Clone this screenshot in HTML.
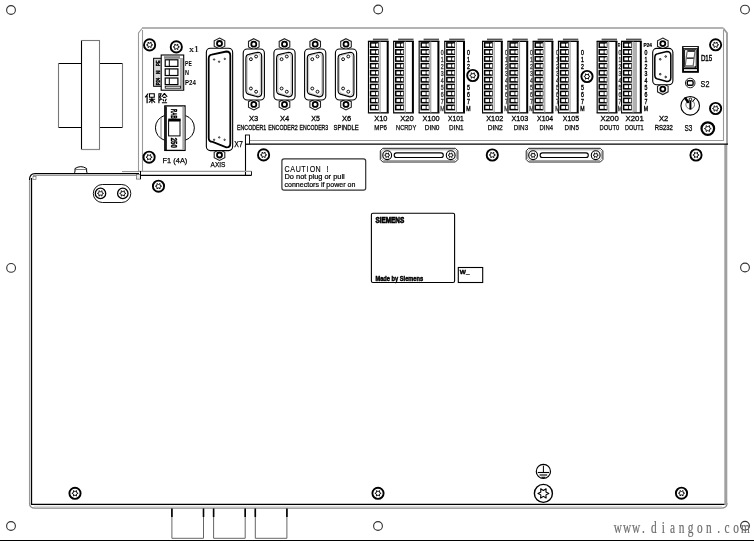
<!DOCTYPE html>
<html><head><meta charset="utf-8"><style>
html,body{margin:0;padding:0;background:#fff;overflow:hidden;}
svg{display:block;will-change:transform;}
</style></head><body>
<svg width="754" height="542" viewBox="0 0 754 542">
<rect width="754" height="542" fill="#fff"/>
<circle cx="11" cy="10" r="4.4" fill="none" stroke="#333" stroke-width="1.1"/>
<circle cx="378.2" cy="9.5" r="4.4" fill="none" stroke="#333" stroke-width="1.1"/>
<circle cx="745" cy="9.6" r="4.4" fill="none" stroke="#333" stroke-width="1.1"/>
<circle cx="11.1" cy="267.9" r="4.4" fill="none" stroke="#333" stroke-width="1.1"/>
<circle cx="745" cy="267.5" r="4.4" fill="none" stroke="#333" stroke-width="1.1"/>
<circle cx="11" cy="526" r="4.4" fill="none" stroke="#333" stroke-width="1.1"/>
<circle cx="378" cy="526" r="4.4" fill="none" stroke="#333" stroke-width="1.1"/>
<circle cx="745" cy="525.8" r="4.4" fill="none" stroke="#333" stroke-width="1.1"/>
<line x1="58" y1="63.5" x2="123" y2="63.5" stroke="#000" stroke-width="1.1"/>
<line x1="58" y1="127.5" x2="123" y2="127.5" stroke="#000" stroke-width="1.1"/>
<line x1="58.5" y1="63" x2="58.5" y2="128" stroke="#777" stroke-width="1.1"/>
<line x1="122.5" y1="63" x2="122.5" y2="128" stroke="#777" stroke-width="1.1"/>
<rect x="81.5" y="40.5" width="18" height="109" rx="0" fill="#fff" stroke="none" stroke-width="1"/>
<line x1="81.5" y1="40" x2="81.5" y2="150" stroke="#000" stroke-width="1.1"/>
<line x1="81" y1="40.5" x2="100" y2="40.5" stroke="#777" stroke-width="1.1"/>
<line x1="99.5" y1="40" x2="99.5" y2="150" stroke="#777" stroke-width="1.1"/>
<line x1="81" y1="149.5" x2="100" y2="149.5" stroke="#888" stroke-width="1.2"/>
<line x1="29.5" y1="180" x2="29.5" y2="503" stroke="#999" stroke-width="1.1"/>
<line x1="31.5" y1="178" x2="31.5" y2="504.5" stroke="#000" stroke-width="1.3"/>
<path d="M29.5,180 Q29.5,173.6 35,173.6 L139,173.6" fill="none" stroke="#000" stroke-width="1.1" />
<line x1="33" y1="175.5" x2="139" y2="175.5" stroke="#999" stroke-width="1"/>
<line x1="31" y1="504.4" x2="725" y2="504.4" stroke="#000" stroke-width="1.4"/>
<path d="M29.5,503 Q29.5,508.2 35,508.2 L721,508.2 Q727,508.2 727,503" fill="none" stroke="#888" stroke-width="1.2" />
<line x1="34" y1="506.3" x2="722" y2="506.3" stroke="#d0d0d0" stroke-width="0.9"/>
<rect x="724.3" y="144" width="3" height="361" rx="0" fill="#a0a0a0" stroke="none" stroke-width="1"/>
<rect x="33" y="176.5" width="3" height="3" rx="0" fill="none" stroke="#555" stroke-width="0.6"/>
<line x1="142" y1="28" x2="723.5" y2="28" stroke="#9a9a9a" stroke-width="1.5"/>
<path d="M138.5,172 L138.5,33 L142,28.5" fill="none" stroke="#999" stroke-width="1.1" />
<line x1="142.5" y1="30" x2="142.5" y2="171" stroke="#999" stroke-width="1.1"/>
<path d="M727,144 L727,33 L723.5,28.5" fill="none" stroke="#999" stroke-width="1.8" />
<line x1="723.5" y1="30" x2="723.5" y2="141" stroke="#999" stroke-width="1.1"/>
<line x1="249.5" y1="140.5" x2="724" y2="140.5" stroke="#999" stroke-width="1.1"/>
<line x1="245.5" y1="144.2" x2="728" y2="144.2" stroke="#000" stroke-width="1.3"/>
<line x1="245.5" y1="135" x2="245.5" y2="175.5" stroke="#000" stroke-width="1.1"/>
<rect x="245.5" y="135" width="4" height="9" rx="0" fill="#fff" stroke="#000" stroke-width="0.9"/>
<line x1="138" y1="171.4" x2="251.5" y2="171.4" stroke="#999" stroke-width="1.1"/>
<line x1="138" y1="175.4" x2="251.5" y2="175.4" stroke="#000" stroke-width="1.2"/>
<line x1="251.5" y1="171.4" x2="251.5" y2="175.4" stroke="#000" stroke-width="0.9"/>
<rect x="136.4" y="174.5" width="4" height="4.6" rx="0" fill="#e8e8e8" stroke="#666" stroke-width="0.7"/>
<line x1="140.5" y1="171" x2="140.5" y2="179.2" stroke="#000" stroke-width="1"/>
<path d="M73.9,173.5 Q75,172.5 75,171 L75,168.5 Q80.8,164.8 86.6,168.5 L86.6,171 Q86.6,172.5 87.8,173.5 Z" fill="#fff" stroke="#000" stroke-width="1" />
<line x1="75" y1="169.5" x2="86.6" y2="169.5" stroke="#555" stroke-width="0.8"/>
<line x1="122" y1="171.6" x2="139" y2="171.6" stroke="#888" stroke-width="1"/>
<rect x="93.3" y="184.5" width="37.5" height="18" rx="9" fill="#fff" stroke="#111" stroke-width="1"/>
<circle cx="100.5" cy="193.4" r="5.2" fill="#fff" stroke="#000" stroke-width="1.3"/>
<polygon points="103.60,193.40 101.98,192.55 102.05,190.72 100.50,191.69 98.95,190.72 99.02,192.55 97.40,193.40 99.02,194.25 98.95,196.08 100.50,195.11 102.05,196.08 101.98,194.25" fill="none" stroke="#000" stroke-width="0.9" stroke-linejoin="round"/>
<circle cx="122.8" cy="193.4" r="5.2" fill="#fff" stroke="#000" stroke-width="1.3"/>
<polygon points="125.90,193.40 124.28,192.55 124.35,190.72 122.80,191.69 121.25,190.72 121.32,192.55 119.70,193.40 121.32,194.25 121.25,196.08 122.80,195.11 124.35,196.08 124.28,194.25" fill="none" stroke="#000" stroke-width="0.9" stroke-linejoin="round"/>
<circle cx="263.6" cy="154.9" r="5.6" fill="#fff" stroke="#000" stroke-width="1.9"/>
<polygon points="266.70,154.90 265.08,154.05 265.15,152.22 263.60,153.19 262.05,152.22 262.12,154.05 260.50,154.90 262.12,155.75 262.05,157.58 263.60,156.61 265.15,157.58 265.08,155.75" fill="none" stroke="#000" stroke-width="0.9" stroke-linejoin="round"/>
<circle cx="492.3" cy="155" r="5.6" fill="#fff" stroke="#000" stroke-width="1.9"/>
<polygon points="495.40,155.00 493.78,154.15 493.85,152.32 492.30,153.29 490.75,152.32 490.82,154.15 489.20,155.00 490.82,155.85 490.75,157.68 492.30,156.71 493.85,157.68 493.78,155.85" fill="none" stroke="#000" stroke-width="0.9" stroke-linejoin="round"/>
<circle cx="696" cy="155" r="5.6" fill="#fff" stroke="#000" stroke-width="1.9"/>
<polygon points="699.10,155.00 697.48,154.15 697.55,152.32 696.00,153.29 694.45,152.32 694.52,154.15 692.90,155.00 694.52,155.85 694.45,157.68 696.00,156.71 697.55,157.68 697.48,155.85" fill="none" stroke="#000" stroke-width="0.9" stroke-linejoin="round"/>
<circle cx="75" cy="493.3" r="5.6" fill="#fff" stroke="#000" stroke-width="1.9"/>
<polygon points="78.10,493.30 76.48,492.45 76.55,490.62 75.00,491.60 73.45,490.62 73.52,492.45 71.90,493.30 73.52,494.15 73.45,495.98 75.00,495.00 76.55,495.98 76.48,494.15" fill="none" stroke="#000" stroke-width="0.9" stroke-linejoin="round"/>
<circle cx="378" cy="493.3" r="5.6" fill="#fff" stroke="#000" stroke-width="1.9"/>
<polygon points="381.10,493.30 379.48,492.45 379.55,490.62 378.00,491.60 376.45,490.62 376.52,492.45 374.90,493.30 376.52,494.15 376.45,495.98 378.00,495.00 379.55,495.98 379.48,494.15" fill="none" stroke="#000" stroke-width="0.9" stroke-linejoin="round"/>
<circle cx="681.5" cy="493.2" r="5.6" fill="#fff" stroke="#000" stroke-width="1.9"/>
<polygon points="684.60,493.20 682.98,492.35 683.05,490.52 681.50,491.50 679.95,490.52 680.02,492.35 678.40,493.20 680.02,494.05 679.95,495.88 681.50,494.90 683.05,495.88 682.98,494.05" fill="none" stroke="#000" stroke-width="0.9" stroke-linejoin="round"/>
<circle cx="158.5" cy="186.2" r="5.6" fill="#fff" stroke="#000" stroke-width="1.9"/>
<polygon points="161.60,186.20 159.98,185.35 160.05,183.52 158.50,184.49 156.95,183.52 157.02,185.35 155.40,186.20 157.02,187.05 156.95,188.88 158.50,187.91 160.05,188.88 159.98,187.05" fill="none" stroke="#000" stroke-width="0.9" stroke-linejoin="round"/>
<path d="M382.8,148.3 L455.4,148.3 L457.9,150.8 L457.9,159.5 L455.4,162 L382.8,162 L380.3,159.5 L380.3,150.8 Z" fill="#fff" stroke="#222" stroke-width="1" />
<path d="M383.6,149.8 L454.59999999999997,149.8 L456.4,151.60000000000002 L456.4,158.7 L454.59999999999997,160.5 L383.6,160.5 L381.8,158.7 L381.8,151.60000000000002 Z" fill="none" stroke="#666" stroke-width="0.6" />
<circle cx="387.2" cy="155.2" r="4.4" fill="#fff" stroke="#000" stroke-width="1.1"/>
<polygon points="389.80,155.20 388.44,154.48 388.50,152.95 387.20,153.77 385.90,152.95 385.96,154.48 384.60,155.20 385.96,155.91 385.90,157.45 387.20,156.63 388.50,157.45 388.44,155.91" fill="none" stroke="#000" stroke-width="0.9" stroke-linejoin="round"/>
<circle cx="450.7" cy="155.2" r="4.4" fill="#fff" stroke="#000" stroke-width="1.1"/>
<polygon points="453.30,155.20 451.94,154.48 452.00,152.95 450.70,153.77 449.40,152.95 449.46,154.48 448.10,155.20 449.46,155.91 449.40,157.45 450.70,156.63 452.00,157.45 451.94,155.91" fill="none" stroke="#000" stroke-width="0.9" stroke-linejoin="round"/>
<rect x="394.2" y="152.9" width="49.099999999999966" height="4.6" rx="2.3" fill="none" stroke="#000" stroke-width="1.1"/>
<path d="M528.7,148.3 L600.4,148.3 L602.9,150.8 L602.9,159.5 L600.4,162 L528.7,162 L526.2,159.5 L526.2,150.8 Z" fill="#fff" stroke="#222" stroke-width="1" />
<path d="M529.5,149.8 L599.6,149.8 L601.4,151.60000000000002 L601.4,158.7 L599.6,160.5 L529.5,160.5 L527.7,158.7 L527.7,151.60000000000002 Z" fill="none" stroke="#666" stroke-width="0.6" />
<circle cx="533.1" cy="155.2" r="4.4" fill="#fff" stroke="#000" stroke-width="1.1"/>
<polygon points="535.70,155.20 534.34,154.48 534.40,152.95 533.10,153.77 531.80,152.95 531.86,154.48 530.50,155.20 531.86,155.91 531.80,157.45 533.10,156.63 534.40,157.45 534.34,155.91" fill="none" stroke="#000" stroke-width="0.9" stroke-linejoin="round"/>
<circle cx="595.6999999999999" cy="155.2" r="4.4" fill="#fff" stroke="#000" stroke-width="1.1"/>
<polygon points="598.30,155.20 596.94,154.48 597.00,152.95 595.70,153.77 594.40,152.95 594.46,154.48 593.10,155.20 594.46,155.91 594.40,157.45 595.70,156.63 597.00,157.45 596.94,155.91" fill="none" stroke="#000" stroke-width="0.9" stroke-linejoin="round"/>
<rect x="540.1" y="152.9" width="48.19999999999993" height="4.6" rx="2.3" fill="none" stroke="#000" stroke-width="1.1"/>
<rect x="281.9" y="158.9" width="83.8" height="31.3" rx="2.2" fill="#fff" stroke="#333" stroke-width="1.2"/>
<text transform="translate(287.1,172.1) scale(0.72,1)" font-family="Liberation Sans" font-size="9.9" fill="#000" stroke="#000" stroke-width="0.15" text-anchor="middle">C</text>
<text transform="translate(292.6,172.1) scale(0.72,1)" font-family="Liberation Sans" font-size="9.9" fill="#000" stroke="#000" stroke-width="0.15" text-anchor="middle">A</text>
<text transform="translate(298.4,172.1) scale(0.72,1)" font-family="Liberation Sans" font-size="9.9" fill="#000" stroke="#000" stroke-width="0.15" text-anchor="middle">U</text>
<text transform="translate(303.3,172.1) scale(0.72,1)" font-family="Liberation Sans" font-size="9.9" fill="#000" stroke="#000" stroke-width="0.15" text-anchor="middle">T</text>
<text transform="translate(307.6,172.1) scale(0.72,1)" font-family="Liberation Sans" font-size="9.9" fill="#000" stroke="#000" stroke-width="0.15" text-anchor="middle">I</text>
<text transform="translate(312.4,172.1) scale(0.72,1)" font-family="Liberation Sans" font-size="9.9" fill="#000" stroke="#000" stroke-width="0.15" text-anchor="middle">O</text>
<text transform="translate(318,172.1) scale(0.72,1)" font-family="Liberation Sans" font-size="9.9" fill="#000" stroke="#000" stroke-width="0.15" text-anchor="middle">N</text>
<text transform="translate(327.4,172.1) scale(0.72,1)" font-family="Liberation Sans" font-size="9.9" fill="#000" stroke="#000" stroke-width="0.15" text-anchor="middle">!</text>
<text x="284.5" y="179.3" font-family="Liberation Sans" font-size="7.6" font-weight="normal" fill="#000" textLength="60.20" lengthAdjust="spacingAndGlyphs" stroke="#000" stroke-width="0.22">Do not plug or pull</text>
<text x="284.5" y="186.6" font-family="Liberation Sans" font-size="7.6" font-weight="normal" fill="#000" textLength="70.80" lengthAdjust="spacingAndGlyphs" stroke="#000" stroke-width="0.22">connectors if power on</text>
<rect x="371.4" y="213.3" width="83.2" height="69.2" rx="1.5" fill="#fff" stroke="#000" stroke-width="1.1"/>
<text x="375.4" y="222.6" font-family="Liberation Sans" font-size="8.8" font-weight="bold" fill="#000" textLength="28.80" lengthAdjust="spacingAndGlyphs" stroke="#000" stroke-width="0.7">SIEMENS</text>
<text x="375.4" y="280.8" font-family="Liberation Sans" font-size="6.4" font-weight="bold" fill="#000" textLength="47.80" lengthAdjust="spacingAndGlyphs" stroke="#000" stroke-width="0.45">Made by Siemens</text>
<rect x="458.3" y="267.5" width="24.4" height="15" rx="0" fill="#fff" stroke="#000" stroke-width="1.1"/>
<text x="459.8" y="273.9" font-family="Liberation Sans" font-size="6" font-weight="bold" fill="#000" textLength="9.70" lengthAdjust="spacingAndGlyphs" stroke="#000" stroke-width="0.4">W_</text>
<circle cx="543.4" cy="471.4" r="7.1" fill="#fff" stroke="#000" stroke-width="1.2"/>
<line x1="543.4" y1="465.6" x2="543.4" y2="472.5" stroke="#000" stroke-width="1"/>
<line x1="537.8" y1="472.5" x2="549" y2="472.5" stroke="#000" stroke-width="1.1"/>
<line x1="539.6" y1="475" x2="547.2" y2="475" stroke="#000" stroke-width="1.1"/>
<line x1="541.4" y1="477.3" x2="545.4" y2="477.3" stroke="#000" stroke-width="1.1"/>
<circle cx="543.4" cy="493.4" r="9" fill="#fff" stroke="#000" stroke-width="1.4"/>
<polygon points="548.80,493.40 545.97,491.91 546.10,488.72 543.40,490.43 540.70,488.72 540.83,491.91 538.00,493.40 540.83,494.88 540.70,498.08 543.40,496.37 546.10,498.08 545.97,494.88" fill="none" stroke="#000" stroke-width="1.1" stroke-linejoin="round"/>
<line x1="0" y1="540.5" x2="754" y2="540.5" stroke="#000" stroke-width="1.2"/>
<path d="M171.9,508.5 L171.9,538.3 L203.5,538.3 L203.5,508.5" fill="none" stroke="#666" stroke-width="1" />
<line x1="171.9" y1="508.5" x2="171.9" y2="517" stroke="#000" stroke-width="1.6"/>
<line x1="203.5" y1="508.5" x2="203.5" y2="517" stroke="#000" stroke-width="1.6"/>
<path d="M213.6,508.5 L213.6,538.3 L245.2,538.3 L245.2,508.5" fill="none" stroke="#666" stroke-width="1" />
<line x1="213.6" y1="508.5" x2="213.6" y2="517" stroke="#000" stroke-width="1.6"/>
<line x1="245.2" y1="508.5" x2="245.2" y2="517" stroke="#000" stroke-width="1.6"/>
<path d="M255.3,508.5 L255.3,538.3 L286.90000000000003,538.3 L286.90000000000003,508.5" fill="none" stroke="#666" stroke-width="1" />
<line x1="255.3" y1="508.5" x2="255.3" y2="517" stroke="#000" stroke-width="1.6"/>
<line x1="286.90000000000003" y1="508.5" x2="286.90000000000003" y2="517" stroke="#000" stroke-width="1.6"/>
<text transform="translate(617.9,533.2) scale(0.7,1)" font-family="Liberation Serif" font-size="16.2" fill="#666" stroke="#888" stroke-width="0.25" text-anchor="middle">w</text>
<text transform="translate(627,533.2) scale(0.7,1)" font-family="Liberation Serif" font-size="16.2" fill="#666" stroke="#888" stroke-width="0.25" text-anchor="middle">w</text>
<text transform="translate(636,533.2) scale(0.7,1)" font-family="Liberation Serif" font-size="16.2" fill="#666" stroke="#888" stroke-width="0.25" text-anchor="middle">w</text>
<text transform="translate(643.5,533.2) scale(0.7,1)" font-family="Liberation Serif" font-size="16.2" fill="#666" stroke="#888" stroke-width="0.25" text-anchor="middle">.</text>
<text transform="translate(653.9,533.2) scale(0.7,1)" font-family="Liberation Serif" font-size="16.2" fill="#666" stroke="#888" stroke-width="0.25" text-anchor="middle">d</text>
<text transform="translate(663.4,533.2) scale(0.7,1)" font-family="Liberation Serif" font-size="16.2" fill="#666" stroke="#888" stroke-width="0.25" text-anchor="middle">i</text>
<text transform="translate(672.5,533.2) scale(0.7,1)" font-family="Liberation Serif" font-size="16.2" fill="#666" stroke="#888" stroke-width="0.25" text-anchor="middle">a</text>
<text transform="translate(681.6,533.2) scale(0.7,1)" font-family="Liberation Serif" font-size="16.2" fill="#666" stroke="#888" stroke-width="0.25" text-anchor="middle">n</text>
<text transform="translate(690.7,533.2) scale(0.7,1)" font-family="Liberation Serif" font-size="16.2" fill="#666" stroke="#888" stroke-width="0.25" text-anchor="middle">g</text>
<text transform="translate(699.8,533.2) scale(0.7,1)" font-family="Liberation Serif" font-size="16.2" fill="#666" stroke="#888" stroke-width="0.25" text-anchor="middle">o</text>
<text transform="translate(708.9,533.2) scale(0.7,1)" font-family="Liberation Serif" font-size="16.2" fill="#666" stroke="#888" stroke-width="0.25" text-anchor="middle">n</text>
<text transform="translate(718.7,533.2) scale(0.7,1)" font-family="Liberation Serif" font-size="16.2" fill="#666" stroke="#888" stroke-width="0.25" text-anchor="middle">.</text>
<text transform="translate(727.1,533.2) scale(0.7,1)" font-family="Liberation Serif" font-size="16.2" fill="#666" stroke="#888" stroke-width="0.25" text-anchor="middle">c</text>
<text transform="translate(736.2,533.2) scale(0.7,1)" font-family="Liberation Serif" font-size="16.2" fill="#666" stroke="#888" stroke-width="0.25" text-anchor="middle">o</text>
<text transform="translate(745.3,533.2) scale(0.7,1)" font-family="Liberation Serif" font-size="16.2" fill="#666" stroke="#888" stroke-width="0.25" text-anchor="middle">m</text>
<circle cx="149.6" cy="44.9" r="5.6" fill="#fff" stroke="#000" stroke-width="1.9"/>
<polygon points="152.70,44.90 151.08,44.05 151.15,42.22 149.60,43.20 148.05,42.22 148.12,44.05 146.50,44.90 148.12,45.75 148.05,47.58 149.60,46.60 151.15,47.58 151.08,45.75" fill="none" stroke="#000" stroke-width="0.9" stroke-linejoin="round"/>
<circle cx="176.3" cy="46.9" r="5.6" fill="#fff" stroke="#000" stroke-width="1.9"/>
<polygon points="179.40,46.90 177.78,46.05 177.85,44.22 176.30,45.20 174.75,44.22 174.82,46.05 173.20,46.90 174.82,47.75 174.75,49.58 176.30,48.60 177.85,49.58 177.78,47.75" fill="none" stroke="#000" stroke-width="0.9" stroke-linejoin="round"/>
<circle cx="149.1" cy="157.2" r="5.6" fill="#fff" stroke="#000" stroke-width="1.9"/>
<polygon points="152.20,157.20 150.58,156.35 150.65,154.52 149.10,155.49 147.55,154.52 147.62,156.35 146.00,157.20 147.62,158.05 147.55,159.88 149.10,158.91 150.65,159.88 150.58,158.05" fill="none" stroke="#000" stroke-width="0.9" stroke-linejoin="round"/>
<circle cx="715.6" cy="44.8" r="5.6" fill="#fff" stroke="#000" stroke-width="1.9"/>
<polygon points="718.70,44.80 717.08,43.95 717.15,42.12 715.60,43.09 714.05,42.12 714.12,43.95 712.50,44.80 714.12,45.65 714.05,47.48 715.60,46.50 717.15,47.48 717.08,45.65" fill="none" stroke="#000" stroke-width="0.9" stroke-linejoin="round"/>
<circle cx="715.6" cy="108.5" r="5.6" fill="#fff" stroke="#000" stroke-width="1.9"/>
<polygon points="718.70,108.50 717.08,107.65 717.15,105.82 715.60,106.80 714.05,105.82 714.12,107.65 712.50,108.50 714.12,109.35 714.05,111.18 715.60,110.20 717.15,111.18 717.08,109.35" fill="none" stroke="#000" stroke-width="0.9" stroke-linejoin="round"/>
<circle cx="472.8" cy="75.5" r="5.6" fill="#fff" stroke="#000" stroke-width="1.9"/>
<polygon points="475.90,75.50 474.28,74.65 474.35,72.82 472.80,73.80 471.25,72.82 471.32,74.65 469.70,75.50 471.32,76.35 471.25,78.18 472.80,77.20 474.35,78.18 474.28,76.35" fill="none" stroke="#000" stroke-width="0.9" stroke-linejoin="round"/>
<circle cx="587" cy="76.5" r="5.6" fill="#fff" stroke="#000" stroke-width="1.9"/>
<polygon points="590.10,76.50 588.48,75.65 588.55,73.82 587.00,74.80 585.45,73.82 585.52,75.65 583.90,76.50 585.52,77.35 585.45,79.18 587.00,78.20 588.55,79.18 588.48,77.35" fill="none" stroke="#000" stroke-width="0.9" stroke-linejoin="round"/>
<circle cx="707.8" cy="128.6" r="6.3" fill="#fff" stroke="#000" stroke-width="2.2"/>
<polygon points="711.20,128.60 709.42,127.66 709.50,125.66 707.80,126.73 706.10,125.66 706.18,127.66 704.40,128.60 706.18,129.53 706.10,131.54 707.80,130.47 709.50,131.54 709.42,129.53" fill="none" stroke="#000" stroke-width="0.9" stroke-linejoin="round"/>
<text x="189.1" y="51.7" font-family="Liberation Serif" font-size="9" font-weight="normal" fill="#000" textLength="9.90" lengthAdjust="spacingAndGlyphs" stroke="#000" stroke-width="0.2">x1</text>
<rect x="153.6" y="58.3" width="9.8" height="28" rx="0" fill="#d8d8d8" stroke="#000" stroke-width="1"/>
<text x="0" y="0" font-family="Liberation Sans" font-weight="bold" font-size="5.2" fill="#000" stroke="#000" stroke-width="0.4" text-anchor="middle" textLength="5.5" lengthAdjust="spacingAndGlyphs" transform="translate(160.2,63.2) rotate(-90)">PE</text>
<text x="0" y="0" font-family="Liberation Sans" font-weight="bold" font-size="5.2" fill="#000" stroke="#000" stroke-width="0.4" text-anchor="middle" textLength="3.5" lengthAdjust="spacingAndGlyphs" transform="translate(160.2,72.3) rotate(-90)">N</text>
<text x="0" y="0" font-family="Liberation Sans" font-weight="bold" font-size="5.2" fill="#000" stroke="#000" stroke-width="0.4" text-anchor="middle" textLength="7.5" lengthAdjust="spacingAndGlyphs" transform="translate(160.2,81.6) rotate(-90)">P24</text>
<rect x="161.2" y="55" width="22.5" height="35.2" rx="0" fill="#fff" stroke="#000" stroke-width="1.1"/>
<rect x="164" y="56.2" width="16" height="2.6" rx="0" fill="#888" stroke="none" stroke-width="1"/>
<rect x="179.9" y="58" width="3.1" height="31" rx="0" fill="#aaa" stroke="none" stroke-width="1"/>
<rect x="165.2" y="59.8" width="12.7" height="6.6000000000000085" rx="0" fill="#fff" stroke="#000" stroke-width="1.2"/>
<line x1="169.3" y1="59.8" x2="169.3" y2="66.4" stroke="#000" stroke-width="1"/>
<rect x="165.2" y="68.9" width="12.7" height="6.599999999999994" rx="0" fill="#fff" stroke="#000" stroke-width="1.2"/>
<line x1="169.3" y1="68.9" x2="169.3" y2="75.5" stroke="#000" stroke-width="1"/>
<rect x="165.2" y="78" width="12.7" height="6.599999999999994" rx="0" fill="#fff" stroke="#000" stroke-width="1.2"/>
<line x1="169.3" y1="78" x2="169.3" y2="84.6" stroke="#000" stroke-width="1"/>
<rect x="165.2" y="86.2" width="15.2" height="2" rx="0" fill="#fff" stroke="#000" stroke-width="0.8"/>
<text x="185" y="65.9" font-family="Liberation Sans" font-size="6.8" font-weight="bold" fill="#000" textLength="6.80" lengthAdjust="spacingAndGlyphs" >PE</text>
<text x="185" y="75" font-family="Liberation Sans" font-size="6.8" font-weight="bold" fill="#000" textLength="4.00" lengthAdjust="spacingAndGlyphs" >N</text>
<text x="185" y="84.6" font-family="Liberation Sans" font-size="6.8" font-weight="bold" fill="#000" textLength="10.90" lengthAdjust="spacingAndGlyphs" >P24</text>
<path d="M148.1,93.5 L145.20000000000002,97.4 M147.1,95.4 L147.1,103.2" fill="none" stroke="#000" stroke-width="1.2" />
<path d="M149.5,93.8 L154.3,93.8 L154.3,97.2 L149.5,97.2 Z M148.9,99.2 L155.1,99.2 M151.9,97.2 L151.9,103.2 M151.70000000000002,99.60000000000001 L148.9,102.60000000000001 M152.1,99.60000000000001 L155.1,102.60000000000001" fill="none" stroke="#000" stroke-width="1.1" />
<path d="M158.9,103.2 L158.9,93.7 L161.1,93.7 L159.9,97.0 L161.3,99.2 L159.3,100.2" fill="none" stroke="#000" stroke-width="1.1" />
<path d="M164.4,93.4 L161.70000000000002,96.8 M164.4,93.4 L167.20000000000002,96.8 M163.1,97.4 L165.8,97.4 M162.9,99.0 L163.70000000000002,101.2 M166.3,98.8 L165.1,101.4 M161.9,102.8 L167.1,102.8" fill="none" stroke="#000" stroke-width="1.1" />
<path d="M164.3,115.6 A12.9,12.9 0 0 0 164.3,140.1" fill="none" stroke="#000" stroke-width="1" />
<path d="M185.5,115.6 A12.9,12.9 0 0 1 185.5,140.1" fill="none" stroke="#000" stroke-width="1" />
<line x1="161" y1="117.5" x2="161" y2="138.5" stroke="#555" stroke-width="0.8"/>
<rect x="164.8" y="105.9" width="20.2" height="44.5" rx="0" fill="#fff" stroke="#000" stroke-width="1.3"/>
<rect x="165.2" y="106.5" width="1.6" height="43.5" rx="0" fill="#000" stroke="none" stroke-width="1"/>
<rect x="182.3" y="106.8" width="2.4" height="43" rx="0" fill="#a8a8a8" stroke="none" stroke-width="1"/>
<text x="0" y="0" font-family="Liberation Sans" font-weight="bold" font-size="9" fill="#000" stroke="#000" stroke-width="0.4" text-anchor="middle" textLength="9.6" lengthAdjust="spacingAndGlyphs" transform="translate(171.4,113.8) rotate(90)">RAB</text>
<text x="0" y="0" font-family="Liberation Sans" font-weight="bold" font-size="9" fill="#000" stroke="#000" stroke-width="0.4" text-anchor="middle" textLength="10.2" lengthAdjust="spacingAndGlyphs" transform="translate(171.4,142.8) rotate(90)">250</text>
<rect x="168.2" y="118.6" width="12.5" height="2.4" rx="0" fill="#000" stroke="none" stroke-width="1"/>
<rect x="168.6" y="121" width="11.4" height="14.9" rx="0" fill="#fff" stroke="#000" stroke-width="1"/>
<text x="162.6" y="162.9" font-family="Liberation Sans" font-size="7.6" font-weight="normal" fill="#000" textLength="24.70" lengthAdjust="spacingAndGlyphs" stroke="#000" stroke-width="0.25">F1 (4A)</text>
<polygon points="219.5,38.0 224.8,40.75 224.8,46.25 219.5,49.0 214.2,46.25 214.2,40.75" fill="#fff" stroke="#222" stroke-width="1.1"/>
<circle cx="219.5" cy="43.5" r="2.5" fill="#fff" stroke="#000" stroke-width="1.8"/>
<polygon points="219.5,149.5 224.8,152.25 224.8,157.75 219.5,160.5 214.2,157.75 214.2,152.25" fill="#fff" stroke="#222" stroke-width="1.1"/>
<circle cx="219.5" cy="155.0" r="2.5" fill="#fff" stroke="#000" stroke-width="1.8"/>
<rect x="206.35" y="48.3" width="26.3" height="102.3" rx="4" fill="#fff" stroke="#000" stroke-width="1.1"/>
<path d="M208.7,58.7 Q208.7,55.0 211.7,54.7 L226.3,51.5 Q230.3,51.5 230.3,55.5 L230.3,143.4 Q230.3,147.4 226.3,147.4 L212.7,141.9 Q208.7,141.6 208.7,137.9 Z" fill="none" stroke="#000" stroke-width="1.8" />
<polygon points="253.8,38.7 259.1,41.45 259.1,46.95 253.8,49.7 248.5,46.95 248.5,41.45" fill="#fff" stroke="#222" stroke-width="1.1"/>
<circle cx="253.8" cy="44.2" r="2.5" fill="#fff" stroke="#000" stroke-width="1.8"/>
<polygon points="253.8,98.9 259.1,101.65 259.1,107.15 253.8,109.9 248.5,107.15 248.5,101.65" fill="#fff" stroke="#222" stroke-width="1.1"/>
<circle cx="253.8" cy="104.4" r="2.5" fill="#fff" stroke="#000" stroke-width="1.8"/>
<rect x="243.20000000000002" y="49" width="21.2" height="51" rx="4" fill="#fff" stroke="#000" stroke-width="1.1"/>
<path d="M245.9,58.400000000000006 Q245.9,54.7 248.9,54.400000000000006 L257.7,52.2 Q261.7,52.2 261.7,56.2 L261.7,92.8 Q261.7,96.8 257.7,96.8 L249.9,94.6 Q245.9,94.3 245.9,90.6 Z" fill="none" stroke="#000" stroke-width="1.15" />
<path d="M245.9,58.400000000000006 Q245.9,54.7 248.9,54.400000000000006 L257.7,52.2 Q261.7,52.2 261.7,56.2 L261.7,92.8 Q261.7,96.8 257.7,96.8 L249.9,94.6 Q245.9,94.3 245.9,90.6 Z" fill="none" stroke="#777" stroke-width="0.5" transform="translate(253.8,74.5) scale(0.835,0.951) translate(-253.8,-74.5)"/>
<polygon points="284.5,38.7 289.8,41.45 289.8,46.95 284.5,49.7 279.2,46.95 279.2,41.45" fill="#fff" stroke="#222" stroke-width="1.1"/>
<circle cx="284.5" cy="44.2" r="2.5" fill="#fff" stroke="#000" stroke-width="1.8"/>
<polygon points="284.5,98.9 289.8,101.65 289.8,107.15 284.5,109.9 279.2,107.15 279.2,101.65" fill="#fff" stroke="#222" stroke-width="1.1"/>
<circle cx="284.5" cy="104.4" r="2.5" fill="#fff" stroke="#000" stroke-width="1.8"/>
<rect x="273.9" y="49" width="21.2" height="51" rx="4" fill="#fff" stroke="#000" stroke-width="1.1"/>
<path d="M276.6,58.400000000000006 Q276.6,54.7 279.6,54.400000000000006 L288.4,52.2 Q292.4,52.2 292.4,56.2 L292.4,92.8 Q292.4,96.8 288.4,96.8 L280.6,94.6 Q276.6,94.3 276.6,90.6 Z" fill="none" stroke="#000" stroke-width="1.15" />
<path d="M276.6,58.400000000000006 Q276.6,54.7 279.6,54.400000000000006 L288.4,52.2 Q292.4,52.2 292.4,56.2 L292.4,92.8 Q292.4,96.8 288.4,96.8 L280.6,94.6 Q276.6,94.3 276.6,90.6 Z" fill="none" stroke="#777" stroke-width="0.5" transform="translate(284.5,74.5) scale(0.835,0.951) translate(-284.5,-74.5)"/>
<polygon points="315.2,38.7 320.5,41.45 320.5,46.95 315.2,49.7 309.9,46.95 309.9,41.45" fill="#fff" stroke="#222" stroke-width="1.1"/>
<circle cx="315.2" cy="44.2" r="2.5" fill="#fff" stroke="#000" stroke-width="1.8"/>
<polygon points="315.2,98.9 320.5,101.65 320.5,107.15 315.2,109.9 309.9,107.15 309.9,101.65" fill="#fff" stroke="#222" stroke-width="1.1"/>
<circle cx="315.2" cy="104.4" r="2.5" fill="#fff" stroke="#000" stroke-width="1.8"/>
<rect x="304.59999999999997" y="49" width="21.2" height="51" rx="4" fill="#fff" stroke="#000" stroke-width="1.1"/>
<path d="M307.3,58.400000000000006 Q307.3,54.7 310.3,54.400000000000006 L319.09999999999997,52.2 Q323.09999999999997,52.2 323.09999999999997,56.2 L323.09999999999997,92.8 Q323.09999999999997,96.8 319.09999999999997,96.8 L311.3,94.6 Q307.3,94.3 307.3,90.6 Z" fill="none" stroke="#000" stroke-width="1.15" />
<path d="M307.3,58.400000000000006 Q307.3,54.7 310.3,54.400000000000006 L319.09999999999997,52.2 Q323.09999999999997,52.2 323.09999999999997,56.2 L323.09999999999997,92.8 Q323.09999999999997,96.8 319.09999999999997,96.8 L311.3,94.6 Q307.3,94.3 307.3,90.6 Z" fill="none" stroke="#777" stroke-width="0.5" transform="translate(315.2,74.5) scale(0.835,0.951) translate(-315.2,-74.5)"/>
<polygon points="346,38.7 351.3,41.45 351.3,46.95 346,49.7 340.7,46.95 340.7,41.45" fill="#fff" stroke="#222" stroke-width="1.1"/>
<circle cx="346" cy="44.2" r="2.5" fill="#fff" stroke="#000" stroke-width="1.8"/>
<polygon points="346,98.9 351.3,101.65 351.3,107.15 346,109.9 340.7,107.15 340.7,101.65" fill="#fff" stroke="#222" stroke-width="1.1"/>
<circle cx="346" cy="104.4" r="2.5" fill="#fff" stroke="#000" stroke-width="1.8"/>
<rect x="335.4" y="49" width="21.2" height="51" rx="4" fill="#fff" stroke="#000" stroke-width="1.1"/>
<path d="M338.1,58.400000000000006 Q338.1,54.7 341.1,54.400000000000006 L349.9,52.2 Q353.9,52.2 353.9,56.2 L353.9,92.8 Q353.9,96.8 349.9,96.8 L342.1,94.6 Q338.1,94.3 338.1,90.6 Z" fill="none" stroke="#000" stroke-width="1.15" />
<path d="M338.1,58.400000000000006 Q338.1,54.7 341.1,54.400000000000006 L349.9,52.2 Q353.9,52.2 353.9,56.2 L353.9,92.8 Q353.9,96.8 349.9,96.8 L342.1,94.6 Q338.1,94.3 338.1,90.6 Z" fill="none" stroke="#777" stroke-width="0.5" transform="translate(346,74.5) scale(0.835,0.951) translate(-346,-74.5)"/>
<polygon points="662.8,38.1 668.0999999999999,40.85 668.0999999999999,46.35 662.8,49.1 657.5,46.35 657.5,40.85" fill="#fff" stroke="#222" stroke-width="1.1"/>
<circle cx="662.8" cy="43.6" r="2.5" fill="#fff" stroke="#000" stroke-width="1.8"/>
<polygon points="662.8,83.60000000000001 668.0999999999999,86.35000000000001 668.0999999999999,91.85000000000001 662.8,94.60000000000001 657.5,91.85000000000001 657.5,86.35000000000001" fill="#fff" stroke="#222" stroke-width="1.1"/>
<circle cx="662.8" cy="89.10000000000001" r="2.5" fill="#fff" stroke="#000" stroke-width="1.8"/>
<rect x="652.6999999999999" y="48.4" width="20.2" height="36.300000000000004" rx="4" fill="#fff" stroke="#000" stroke-width="1.1"/>
<path d="M654.8,57.800000000000004 Q654.8,54.1 657.8,53.800000000000004 L666.8,51.6 Q670.8,51.6 670.8,55.6 L670.8,77.5 Q670.8,81.5 666.8,81.5 L658.8,79.3 Q654.8,79.0 654.8,75.3 Z" fill="none" stroke="#000" stroke-width="1.5" />
<circle cx="250.9" cy="59.2" r="1.45" fill="none" stroke="#000" stroke-width="0.95"/>
<circle cx="256.1" cy="56.5" r="1.45" fill="none" stroke="#000" stroke-width="0.95"/>
<circle cx="250.9" cy="88.5" r="1.45" fill="none" stroke="#000" stroke-width="0.95"/>
<circle cx="256.1" cy="91.7" r="1.45" fill="none" stroke="#000" stroke-width="0.95"/>
<circle cx="281.6" cy="59.2" r="1.45" fill="none" stroke="#000" stroke-width="0.95"/>
<circle cx="286.8" cy="56.5" r="1.45" fill="none" stroke="#000" stroke-width="0.95"/>
<circle cx="281.6" cy="88.5" r="1.45" fill="none" stroke="#000" stroke-width="0.95"/>
<circle cx="286.8" cy="91.7" r="1.45" fill="none" stroke="#000" stroke-width="0.95"/>
<circle cx="312.3" cy="59.2" r="1.45" fill="none" stroke="#000" stroke-width="0.95"/>
<circle cx="317.5" cy="56.5" r="1.45" fill="none" stroke="#000" stroke-width="0.95"/>
<circle cx="312.3" cy="88.5" r="1.45" fill="none" stroke="#000" stroke-width="0.95"/>
<circle cx="317.5" cy="91.7" r="1.45" fill="none" stroke="#000" stroke-width="0.95"/>
<circle cx="343.1" cy="59.2" r="1.45" fill="none" stroke="#000" stroke-width="0.95"/>
<circle cx="348.3" cy="56.5" r="1.45" fill="none" stroke="#000" stroke-width="0.95"/>
<circle cx="343.1" cy="88.5" r="1.45" fill="none" stroke="#000" stroke-width="0.95"/>
<circle cx="348.3" cy="91.7" r="1.45" fill="none" stroke="#000" stroke-width="0.95"/>
<circle cx="214.1" cy="59.5" r="0.7" fill="none" stroke="#000" stroke-width="0.8"/>
<circle cx="219.1" cy="61.7" r="0.7" fill="none" stroke="#000" stroke-width="0.8"/>
<circle cx="224.8" cy="58.9" r="0.7" fill="none" stroke="#000" stroke-width="0.8"/>
<circle cx="214.1" cy="139.8" r="0.7" fill="none" stroke="#000" stroke-width="0.8"/>
<circle cx="219.2" cy="137.4" r="0.7" fill="none" stroke="#000" stroke-width="0.8"/>
<circle cx="224.6" cy="139.8" r="0.7" fill="none" stroke="#000" stroke-width="0.8"/>
<circle cx="660.1999999999999" cy="59.3" r="0.8" fill="none" stroke="#000" stroke-width="0.9"/>
<circle cx="665.6999999999999" cy="56.5" r="0.8" fill="none" stroke="#000" stroke-width="0.9"/>
<circle cx="660.1999999999999" cy="74.2" r="0.8" fill="none" stroke="#000" stroke-width="0.9"/>
<circle cx="665.6999999999999" cy="77" r="0.8" fill="none" stroke="#000" stroke-width="0.9"/>
<text x="249.0" y="121" font-family="Liberation Sans" font-size="8.1" font-weight="normal" fill="#000" textLength="9.30" lengthAdjust="spacingAndGlyphs" stroke="#000" stroke-width="0.3">X3</text>
<text x="237.0" y="130.2" font-family="Liberation Sans" font-size="7.4" font-weight="normal" fill="#000" textLength="29.30" lengthAdjust="spacingAndGlyphs" stroke="#000" stroke-width="0.3">ENCODER1</text>
<text x="280.0" y="121" font-family="Liberation Sans" font-size="8.1" font-weight="normal" fill="#000" textLength="9.30" lengthAdjust="spacingAndGlyphs" stroke="#000" stroke-width="0.3">X4</text>
<text x="268.2" y="130.2" font-family="Liberation Sans" font-size="7.4" font-weight="normal" fill="#000" textLength="29.50" lengthAdjust="spacingAndGlyphs" stroke="#000" stroke-width="0.3">ENCODER2</text>
<text x="311.20000000000005" y="121" font-family="Liberation Sans" font-size="8.1" font-weight="normal" fill="#000" textLength="8.60" lengthAdjust="spacingAndGlyphs" stroke="#000" stroke-width="0.3">X5</text>
<text x="299.59999999999997" y="130.2" font-family="Liberation Sans" font-size="7.4" font-weight="normal" fill="#000" textLength="28.60" lengthAdjust="spacingAndGlyphs" stroke="#000" stroke-width="0.3">ENCODER3</text>
<text x="342.0" y="121" font-family="Liberation Sans" font-size="8.1" font-weight="normal" fill="#000" textLength="9.20" lengthAdjust="spacingAndGlyphs" stroke="#000" stroke-width="0.3">X6</text>
<text x="333.59999999999997" y="130.2" font-family="Liberation Sans" font-size="7.4" font-weight="normal" fill="#000" textLength="25.00" lengthAdjust="spacingAndGlyphs" stroke="#000" stroke-width="0.3">SPINDLE</text>
<text x="658.9" y="121" font-family="Liberation Sans" font-size="8.1" font-weight="normal" fill="#000" textLength="9.30" lengthAdjust="spacingAndGlyphs" stroke="#000" stroke-width="0.3">X2</text>
<text x="654.7" y="130.2" font-family="Liberation Sans" font-size="7.4" font-weight="normal" fill="#000" textLength="18.20" lengthAdjust="spacingAndGlyphs" stroke="#000" stroke-width="0.3">RS232</text>
<text x="210.6" y="166.5" font-family="Liberation Sans" font-size="8" font-weight="normal" fill="#000" textLength="14.80" lengthAdjust="spacingAndGlyphs" stroke="#000" stroke-width="0.25">AXIS</text>
<text x="234.3" y="146.6" font-family="Liberation Sans" font-size="8.7" font-weight="normal" fill="#000" textLength="8.50" lengthAdjust="spacingAndGlyphs" stroke="#000" stroke-width="0.25">X7</text>
<rect x="372.9" y="38.6" width="15.400000000000011" height="1.7" rx="0" fill="#555" stroke="none" stroke-width="1"/>
<rect x="367.9" y="40.7" width="20.80000000000001" height="1.3" rx="0" fill="#000" stroke="none" stroke-width="1"/>
<rect x="367.9" y="112.2" width="20.80000000000001" height="1.3" rx="0" fill="#000" stroke="none" stroke-width="1"/>
<rect x="367.9" y="41.5" width="1.1" height="71.2" rx="0" fill="#000" stroke="none" stroke-width="1"/>
<rect x="386.7" y="41.5" width="2" height="71.2" rx="0" fill="#000" stroke="none" stroke-width="1"/>
<rect x="379.5" y="41.5" width="1.1" height="71.2" rx="0" fill="#999" stroke="none" stroke-width="1"/>
<rect x="369.79999999999995" y="42.1" width="8.9" height="5.93" rx="0" fill="#000" stroke="none" stroke-width="1"/>
<rect x="371.29999999999995" y="43.665" width="3.7" height="2.8" rx="0" fill="#fff" stroke="none" stroke-width="1"/>
<path d="M375.79999999999995,43.765 L378.09999999999997,43.165 L378.09999999999997,46.964999999999996 L375.79999999999995,46.364999999999995 Z" fill="#fff"/>
<rect x="369.79999999999995" y="49.03" width="8.9" height="5.93" rx="0" fill="#000" stroke="none" stroke-width="1"/>
<rect x="371.29999999999995" y="50.595000000000006" width="3.7" height="2.8" rx="0" fill="#fff" stroke="none" stroke-width="1"/>
<path d="M375.79999999999995,50.69500000000001 L378.09999999999997,50.095000000000006 L378.09999999999997,53.895 L375.79999999999995,53.295 Z" fill="#fff"/>
<rect x="369.79999999999995" y="55.96" width="8.9" height="5.93" rx="0" fill="#000" stroke="none" stroke-width="1"/>
<rect x="371.29999999999995" y="57.525" width="3.7" height="2.8" rx="0" fill="#fff" stroke="none" stroke-width="1"/>
<path d="M375.79999999999995,57.625 L378.09999999999997,57.025 L378.09999999999997,60.824999999999996 L375.79999999999995,60.224999999999994 Z" fill="#fff"/>
<rect x="369.79999999999995" y="62.89" width="8.9" height="5.93" rx="0" fill="#000" stroke="none" stroke-width="1"/>
<rect x="371.29999999999995" y="64.455" width="3.7" height="2.8" rx="0" fill="#fff" stroke="none" stroke-width="1"/>
<path d="M375.79999999999995,64.555 L378.09999999999997,63.955000000000005 L378.09999999999997,67.75500000000001 L375.79999999999995,67.155 Z" fill="#fff"/>
<rect x="369.79999999999995" y="69.82" width="8.9" height="5.93" rx="0" fill="#000" stroke="none" stroke-width="1"/>
<rect x="371.29999999999995" y="71.38499999999999" width="3.7" height="2.8" rx="0" fill="#fff" stroke="none" stroke-width="1"/>
<path d="M375.79999999999995,71.485 L378.09999999999997,70.88499999999999 L378.09999999999997,74.685 L375.79999999999995,74.085 Z" fill="#fff"/>
<rect x="369.79999999999995" y="76.75" width="8.9" height="5.93" rx="0" fill="#000" stroke="none" stroke-width="1"/>
<rect x="371.29999999999995" y="78.315" width="3.7" height="2.8" rx="0" fill="#fff" stroke="none" stroke-width="1"/>
<path d="M375.79999999999995,78.415 L378.09999999999997,77.815 L378.09999999999997,81.61500000000001 L375.79999999999995,81.015 Z" fill="#fff"/>
<rect x="369.79999999999995" y="83.68" width="8.9" height="5.93" rx="0" fill="#000" stroke="none" stroke-width="1"/>
<rect x="371.29999999999995" y="85.245" width="3.7" height="2.8" rx="0" fill="#fff" stroke="none" stroke-width="1"/>
<path d="M375.79999999999995,85.34500000000001 L378.09999999999997,84.745 L378.09999999999997,88.54500000000002 L375.79999999999995,87.94500000000001 Z" fill="#fff"/>
<rect x="369.79999999999995" y="90.61" width="8.9" height="5.93" rx="0" fill="#000" stroke="none" stroke-width="1"/>
<rect x="371.29999999999995" y="92.175" width="3.7" height="2.8" rx="0" fill="#fff" stroke="none" stroke-width="1"/>
<path d="M375.79999999999995,92.275 L378.09999999999997,91.675 L378.09999999999997,95.47500000000001 L375.79999999999995,94.875 Z" fill="#fff"/>
<rect x="369.79999999999995" y="97.53999999999999" width="8.9" height="5.93" rx="0" fill="#000" stroke="none" stroke-width="1"/>
<rect x="371.29999999999995" y="99.10499999999999" width="3.7" height="2.8" rx="0" fill="#fff" stroke="none" stroke-width="1"/>
<path d="M375.79999999999995,99.205 L378.09999999999997,98.60499999999999 L378.09999999999997,102.405 L375.79999999999995,101.80499999999999 Z" fill="#fff"/>
<rect x="369.79999999999995" y="104.47" width="8.9" height="5.93" rx="0" fill="#000" stroke="none" stroke-width="1"/>
<rect x="371.29999999999995" y="106.035" width="3.7" height="2.8" rx="0" fill="#fff" stroke="none" stroke-width="1"/>
<path d="M375.79999999999995,106.135 L378.09999999999997,105.535 L378.09999999999997,109.33500000000001 L375.79999999999995,108.735 Z" fill="#fff"/>
<rect x="398.1" y="38.6" width="15.400000000000011" height="1.7" rx="0" fill="#555" stroke="none" stroke-width="1"/>
<rect x="393.1" y="40.7" width="20.80000000000001" height="1.3" rx="0" fill="#000" stroke="none" stroke-width="1"/>
<rect x="393.1" y="112.2" width="20.80000000000001" height="1.3" rx="0" fill="#000" stroke="none" stroke-width="1"/>
<rect x="393.1" y="41.5" width="1.1" height="71.2" rx="0" fill="#000" stroke="none" stroke-width="1"/>
<rect x="411.90000000000003" y="41.5" width="2" height="71.2" rx="0" fill="#000" stroke="none" stroke-width="1"/>
<rect x="404.70000000000005" y="41.5" width="1.1" height="71.2" rx="0" fill="#999" stroke="none" stroke-width="1"/>
<rect x="395.0" y="42.1" width="8.9" height="5.93" rx="0" fill="#000" stroke="none" stroke-width="1"/>
<rect x="396.5" y="43.665" width="3.7" height="2.8" rx="0" fill="#fff" stroke="none" stroke-width="1"/>
<path d="M401.0,43.765 L403.3,43.165 L403.3,46.964999999999996 L401.0,46.364999999999995 Z" fill="#fff"/>
<rect x="395.0" y="49.03" width="8.9" height="5.93" rx="0" fill="#000" stroke="none" stroke-width="1"/>
<rect x="396.5" y="50.595000000000006" width="3.7" height="2.8" rx="0" fill="#fff" stroke="none" stroke-width="1"/>
<path d="M401.0,50.69500000000001 L403.3,50.095000000000006 L403.3,53.895 L401.0,53.295 Z" fill="#fff"/>
<rect x="395.0" y="55.96" width="8.9" height="5.93" rx="0" fill="#000" stroke="none" stroke-width="1"/>
<rect x="396.5" y="57.525" width="3.7" height="2.8" rx="0" fill="#fff" stroke="none" stroke-width="1"/>
<path d="M401.0,57.625 L403.3,57.025 L403.3,60.824999999999996 L401.0,60.224999999999994 Z" fill="#fff"/>
<rect x="395.0" y="62.89" width="8.9" height="5.93" rx="0" fill="#000" stroke="none" stroke-width="1"/>
<rect x="396.5" y="64.455" width="3.7" height="2.8" rx="0" fill="#fff" stroke="none" stroke-width="1"/>
<path d="M401.0,64.555 L403.3,63.955000000000005 L403.3,67.75500000000001 L401.0,67.155 Z" fill="#fff"/>
<rect x="395.0" y="69.82" width="8.9" height="5.93" rx="0" fill="#000" stroke="none" stroke-width="1"/>
<rect x="396.5" y="71.38499999999999" width="3.7" height="2.8" rx="0" fill="#fff" stroke="none" stroke-width="1"/>
<path d="M401.0,71.485 L403.3,70.88499999999999 L403.3,74.685 L401.0,74.085 Z" fill="#fff"/>
<rect x="395.0" y="76.75" width="8.9" height="5.93" rx="0" fill="#000" stroke="none" stroke-width="1"/>
<rect x="396.5" y="78.315" width="3.7" height="2.8" rx="0" fill="#fff" stroke="none" stroke-width="1"/>
<path d="M401.0,78.415 L403.3,77.815 L403.3,81.61500000000001 L401.0,81.015 Z" fill="#fff"/>
<rect x="395.0" y="83.68" width="8.9" height="5.93" rx="0" fill="#000" stroke="none" stroke-width="1"/>
<rect x="396.5" y="85.245" width="3.7" height="2.8" rx="0" fill="#fff" stroke="none" stroke-width="1"/>
<path d="M401.0,85.34500000000001 L403.3,84.745 L403.3,88.54500000000002 L401.0,87.94500000000001 Z" fill="#fff"/>
<rect x="395.0" y="90.61" width="8.9" height="5.93" rx="0" fill="#000" stroke="none" stroke-width="1"/>
<rect x="396.5" y="92.175" width="3.7" height="2.8" rx="0" fill="#fff" stroke="none" stroke-width="1"/>
<path d="M401.0,92.275 L403.3,91.675 L403.3,95.47500000000001 L401.0,94.875 Z" fill="#fff"/>
<rect x="395.0" y="97.53999999999999" width="8.9" height="5.93" rx="0" fill="#000" stroke="none" stroke-width="1"/>
<rect x="396.5" y="99.10499999999999" width="3.7" height="2.8" rx="0" fill="#fff" stroke="none" stroke-width="1"/>
<path d="M401.0,99.205 L403.3,98.60499999999999 L403.3,102.405 L401.0,101.80499999999999 Z" fill="#fff"/>
<rect x="395.0" y="104.47" width="8.9" height="5.93" rx="0" fill="#000" stroke="none" stroke-width="1"/>
<rect x="396.5" y="106.035" width="3.7" height="2.8" rx="0" fill="#fff" stroke="none" stroke-width="1"/>
<path d="M401.0,106.135 L403.3,105.535 L403.3,109.33500000000001 L401.0,108.735 Z" fill="#fff"/>
<rect x="423.6" y="38.6" width="15.400000000000011" height="1.7" rx="0" fill="#555" stroke="none" stroke-width="1"/>
<rect x="418.6" y="40.7" width="20.80000000000001" height="1.3" rx="0" fill="#000" stroke="none" stroke-width="1"/>
<rect x="418.6" y="112.2" width="20.80000000000001" height="1.3" rx="0" fill="#000" stroke="none" stroke-width="1"/>
<rect x="418.6" y="41.5" width="1.1" height="71.2" rx="0" fill="#000" stroke="none" stroke-width="1"/>
<rect x="437.40000000000003" y="41.5" width="2" height="71.2" rx="0" fill="#000" stroke="none" stroke-width="1"/>
<rect x="430.20000000000005" y="41.5" width="1.1" height="71.2" rx="0" fill="#999" stroke="none" stroke-width="1"/>
<rect x="420.5" y="42.1" width="8.9" height="5.93" rx="0" fill="#000" stroke="none" stroke-width="1"/>
<rect x="422.0" y="43.665" width="3.7" height="2.8" rx="0" fill="#fff" stroke="none" stroke-width="1"/>
<path d="M426.5,43.765 L428.8,43.165 L428.8,46.964999999999996 L426.5,46.364999999999995 Z" fill="#fff"/>
<rect x="420.5" y="49.03" width="8.9" height="5.93" rx="0" fill="#000" stroke="none" stroke-width="1"/>
<rect x="422.0" y="50.595000000000006" width="3.7" height="2.8" rx="0" fill="#fff" stroke="none" stroke-width="1"/>
<path d="M426.5,50.69500000000001 L428.8,50.095000000000006 L428.8,53.895 L426.5,53.295 Z" fill="#fff"/>
<rect x="420.5" y="55.96" width="8.9" height="5.93" rx="0" fill="#000" stroke="none" stroke-width="1"/>
<rect x="422.0" y="57.525" width="3.7" height="2.8" rx="0" fill="#fff" stroke="none" stroke-width="1"/>
<path d="M426.5,57.625 L428.8,57.025 L428.8,60.824999999999996 L426.5,60.224999999999994 Z" fill="#fff"/>
<rect x="420.5" y="62.89" width="8.9" height="5.93" rx="0" fill="#000" stroke="none" stroke-width="1"/>
<rect x="422.0" y="64.455" width="3.7" height="2.8" rx="0" fill="#fff" stroke="none" stroke-width="1"/>
<path d="M426.5,64.555 L428.8,63.955000000000005 L428.8,67.75500000000001 L426.5,67.155 Z" fill="#fff"/>
<rect x="420.5" y="69.82" width="8.9" height="5.93" rx="0" fill="#000" stroke="none" stroke-width="1"/>
<rect x="422.0" y="71.38499999999999" width="3.7" height="2.8" rx="0" fill="#fff" stroke="none" stroke-width="1"/>
<path d="M426.5,71.485 L428.8,70.88499999999999 L428.8,74.685 L426.5,74.085 Z" fill="#fff"/>
<rect x="420.5" y="76.75" width="8.9" height="5.93" rx="0" fill="#000" stroke="none" stroke-width="1"/>
<rect x="422.0" y="78.315" width="3.7" height="2.8" rx="0" fill="#fff" stroke="none" stroke-width="1"/>
<path d="M426.5,78.415 L428.8,77.815 L428.8,81.61500000000001 L426.5,81.015 Z" fill="#fff"/>
<rect x="420.5" y="83.68" width="8.9" height="5.93" rx="0" fill="#000" stroke="none" stroke-width="1"/>
<rect x="422.0" y="85.245" width="3.7" height="2.8" rx="0" fill="#fff" stroke="none" stroke-width="1"/>
<path d="M426.5,85.34500000000001 L428.8,84.745 L428.8,88.54500000000002 L426.5,87.94500000000001 Z" fill="#fff"/>
<rect x="420.5" y="90.61" width="8.9" height="5.93" rx="0" fill="#000" stroke="none" stroke-width="1"/>
<rect x="422.0" y="92.175" width="3.7" height="2.8" rx="0" fill="#fff" stroke="none" stroke-width="1"/>
<path d="M426.5,92.275 L428.8,91.675 L428.8,95.47500000000001 L426.5,94.875 Z" fill="#fff"/>
<rect x="420.5" y="97.53999999999999" width="8.9" height="5.93" rx="0" fill="#000" stroke="none" stroke-width="1"/>
<rect x="422.0" y="99.10499999999999" width="3.7" height="2.8" rx="0" fill="#fff" stroke="none" stroke-width="1"/>
<path d="M426.5,99.205 L428.8,98.60499999999999 L428.8,102.405 L426.5,101.80499999999999 Z" fill="#fff"/>
<rect x="420.5" y="104.47" width="8.9" height="5.93" rx="0" fill="#000" stroke="none" stroke-width="1"/>
<rect x="422.0" y="106.035" width="3.7" height="2.8" rx="0" fill="#fff" stroke="none" stroke-width="1"/>
<path d="M426.5,106.135 L428.8,105.535 L428.8,109.33500000000001 L426.5,108.735 Z" fill="#fff"/>
<rect x="449.2" y="38.6" width="15.400000000000011" height="1.7" rx="0" fill="#555" stroke="none" stroke-width="1"/>
<rect x="444.2" y="40.7" width="20.80000000000001" height="1.3" rx="0" fill="#000" stroke="none" stroke-width="1"/>
<rect x="444.2" y="112.2" width="20.80000000000001" height="1.3" rx="0" fill="#000" stroke="none" stroke-width="1"/>
<rect x="444.2" y="41.5" width="1.1" height="71.2" rx="0" fill="#000" stroke="none" stroke-width="1"/>
<rect x="463.0" y="41.5" width="2" height="71.2" rx="0" fill="#000" stroke="none" stroke-width="1"/>
<rect x="455.8" y="41.5" width="1.1" height="71.2" rx="0" fill="#999" stroke="none" stroke-width="1"/>
<rect x="446.09999999999997" y="42.1" width="8.9" height="5.93" rx="0" fill="#000" stroke="none" stroke-width="1"/>
<rect x="447.59999999999997" y="43.665" width="3.7" height="2.8" rx="0" fill="#fff" stroke="none" stroke-width="1"/>
<path d="M452.09999999999997,43.765 L454.4,43.165 L454.4,46.964999999999996 L452.09999999999997,46.364999999999995 Z" fill="#fff"/>
<rect x="446.09999999999997" y="49.03" width="8.9" height="5.93" rx="0" fill="#000" stroke="none" stroke-width="1"/>
<rect x="447.59999999999997" y="50.595000000000006" width="3.7" height="2.8" rx="0" fill="#fff" stroke="none" stroke-width="1"/>
<path d="M452.09999999999997,50.69500000000001 L454.4,50.095000000000006 L454.4,53.895 L452.09999999999997,53.295 Z" fill="#fff"/>
<rect x="446.09999999999997" y="55.96" width="8.9" height="5.93" rx="0" fill="#000" stroke="none" stroke-width="1"/>
<rect x="447.59999999999997" y="57.525" width="3.7" height="2.8" rx="0" fill="#fff" stroke="none" stroke-width="1"/>
<path d="M452.09999999999997,57.625 L454.4,57.025 L454.4,60.824999999999996 L452.09999999999997,60.224999999999994 Z" fill="#fff"/>
<rect x="446.09999999999997" y="62.89" width="8.9" height="5.93" rx="0" fill="#000" stroke="none" stroke-width="1"/>
<rect x="447.59999999999997" y="64.455" width="3.7" height="2.8" rx="0" fill="#fff" stroke="none" stroke-width="1"/>
<path d="M452.09999999999997,64.555 L454.4,63.955000000000005 L454.4,67.75500000000001 L452.09999999999997,67.155 Z" fill="#fff"/>
<rect x="446.09999999999997" y="69.82" width="8.9" height="5.93" rx="0" fill="#000" stroke="none" stroke-width="1"/>
<rect x="447.59999999999997" y="71.38499999999999" width="3.7" height="2.8" rx="0" fill="#fff" stroke="none" stroke-width="1"/>
<path d="M452.09999999999997,71.485 L454.4,70.88499999999999 L454.4,74.685 L452.09999999999997,74.085 Z" fill="#fff"/>
<rect x="446.09999999999997" y="76.75" width="8.9" height="5.93" rx="0" fill="#000" stroke="none" stroke-width="1"/>
<rect x="447.59999999999997" y="78.315" width="3.7" height="2.8" rx="0" fill="#fff" stroke="none" stroke-width="1"/>
<path d="M452.09999999999997,78.415 L454.4,77.815 L454.4,81.61500000000001 L452.09999999999997,81.015 Z" fill="#fff"/>
<rect x="446.09999999999997" y="83.68" width="8.9" height="5.93" rx="0" fill="#000" stroke="none" stroke-width="1"/>
<rect x="447.59999999999997" y="85.245" width="3.7" height="2.8" rx="0" fill="#fff" stroke="none" stroke-width="1"/>
<path d="M452.09999999999997,85.34500000000001 L454.4,84.745 L454.4,88.54500000000002 L452.09999999999997,87.94500000000001 Z" fill="#fff"/>
<rect x="446.09999999999997" y="90.61" width="8.9" height="5.93" rx="0" fill="#000" stroke="none" stroke-width="1"/>
<rect x="447.59999999999997" y="92.175" width="3.7" height="2.8" rx="0" fill="#fff" stroke="none" stroke-width="1"/>
<path d="M452.09999999999997,92.275 L454.4,91.675 L454.4,95.47500000000001 L452.09999999999997,94.875 Z" fill="#fff"/>
<rect x="446.09999999999997" y="97.53999999999999" width="8.9" height="5.93" rx="0" fill="#000" stroke="none" stroke-width="1"/>
<rect x="447.59999999999997" y="99.10499999999999" width="3.7" height="2.8" rx="0" fill="#fff" stroke="none" stroke-width="1"/>
<path d="M452.09999999999997,99.205 L454.4,98.60499999999999 L454.4,102.405 L452.09999999999997,101.80499999999999 Z" fill="#fff"/>
<rect x="446.09999999999997" y="104.47" width="8.9" height="5.93" rx="0" fill="#000" stroke="none" stroke-width="1"/>
<rect x="447.59999999999997" y="106.035" width="3.7" height="2.8" rx="0" fill="#fff" stroke="none" stroke-width="1"/>
<path d="M452.09999999999997,106.135 L454.4,105.535 L454.4,109.33500000000001 L452.09999999999997,108.735 Z" fill="#fff"/>
<rect x="487" y="38.6" width="15.400000000000011" height="1.7" rx="0" fill="#555" stroke="none" stroke-width="1"/>
<rect x="482" y="40.7" width="20.80000000000001" height="1.3" rx="0" fill="#000" stroke="none" stroke-width="1"/>
<rect x="482" y="112.2" width="20.80000000000001" height="1.3" rx="0" fill="#000" stroke="none" stroke-width="1"/>
<rect x="482" y="41.5" width="1.1" height="71.2" rx="0" fill="#000" stroke="none" stroke-width="1"/>
<rect x="500.8" y="41.5" width="2" height="71.2" rx="0" fill="#000" stroke="none" stroke-width="1"/>
<rect x="493.6" y="41.5" width="1.1" height="71.2" rx="0" fill="#999" stroke="none" stroke-width="1"/>
<rect x="483.9" y="42.1" width="8.9" height="5.93" rx="0" fill="#000" stroke="none" stroke-width="1"/>
<rect x="485.4" y="43.665" width="3.7" height="2.8" rx="0" fill="#fff" stroke="none" stroke-width="1"/>
<path d="M489.9,43.765 L492.2,43.165 L492.2,46.964999999999996 L489.9,46.364999999999995 Z" fill="#fff"/>
<rect x="483.9" y="49.03" width="8.9" height="5.93" rx="0" fill="#000" stroke="none" stroke-width="1"/>
<rect x="485.4" y="50.595000000000006" width="3.7" height="2.8" rx="0" fill="#fff" stroke="none" stroke-width="1"/>
<path d="M489.9,50.69500000000001 L492.2,50.095000000000006 L492.2,53.895 L489.9,53.295 Z" fill="#fff"/>
<rect x="483.9" y="55.96" width="8.9" height="5.93" rx="0" fill="#000" stroke="none" stroke-width="1"/>
<rect x="485.4" y="57.525" width="3.7" height="2.8" rx="0" fill="#fff" stroke="none" stroke-width="1"/>
<path d="M489.9,57.625 L492.2,57.025 L492.2,60.824999999999996 L489.9,60.224999999999994 Z" fill="#fff"/>
<rect x="483.9" y="62.89" width="8.9" height="5.93" rx="0" fill="#000" stroke="none" stroke-width="1"/>
<rect x="485.4" y="64.455" width="3.7" height="2.8" rx="0" fill="#fff" stroke="none" stroke-width="1"/>
<path d="M489.9,64.555 L492.2,63.955000000000005 L492.2,67.75500000000001 L489.9,67.155 Z" fill="#fff"/>
<rect x="483.9" y="69.82" width="8.9" height="5.93" rx="0" fill="#000" stroke="none" stroke-width="1"/>
<rect x="485.4" y="71.38499999999999" width="3.7" height="2.8" rx="0" fill="#fff" stroke="none" stroke-width="1"/>
<path d="M489.9,71.485 L492.2,70.88499999999999 L492.2,74.685 L489.9,74.085 Z" fill="#fff"/>
<rect x="483.9" y="76.75" width="8.9" height="5.93" rx="0" fill="#000" stroke="none" stroke-width="1"/>
<rect x="485.4" y="78.315" width="3.7" height="2.8" rx="0" fill="#fff" stroke="none" stroke-width="1"/>
<path d="M489.9,78.415 L492.2,77.815 L492.2,81.61500000000001 L489.9,81.015 Z" fill="#fff"/>
<rect x="483.9" y="83.68" width="8.9" height="5.93" rx="0" fill="#000" stroke="none" stroke-width="1"/>
<rect x="485.4" y="85.245" width="3.7" height="2.8" rx="0" fill="#fff" stroke="none" stroke-width="1"/>
<path d="M489.9,85.34500000000001 L492.2,84.745 L492.2,88.54500000000002 L489.9,87.94500000000001 Z" fill="#fff"/>
<rect x="483.9" y="90.61" width="8.9" height="5.93" rx="0" fill="#000" stroke="none" stroke-width="1"/>
<rect x="485.4" y="92.175" width="3.7" height="2.8" rx="0" fill="#fff" stroke="none" stroke-width="1"/>
<path d="M489.9,92.275 L492.2,91.675 L492.2,95.47500000000001 L489.9,94.875 Z" fill="#fff"/>
<rect x="483.9" y="97.53999999999999" width="8.9" height="5.93" rx="0" fill="#000" stroke="none" stroke-width="1"/>
<rect x="485.4" y="99.10499999999999" width="3.7" height="2.8" rx="0" fill="#fff" stroke="none" stroke-width="1"/>
<path d="M489.9,99.205 L492.2,98.60499999999999 L492.2,102.405 L489.9,101.80499999999999 Z" fill="#fff"/>
<rect x="483.9" y="104.47" width="8.9" height="5.93" rx="0" fill="#000" stroke="none" stroke-width="1"/>
<rect x="485.4" y="106.035" width="3.7" height="2.8" rx="0" fill="#fff" stroke="none" stroke-width="1"/>
<path d="M489.9,106.135 L492.2,105.535 L492.2,109.33500000000001 L489.9,108.735 Z" fill="#fff"/>
<rect x="512.4" y="38.6" width="15.399999999999954" height="1.7" rx="0" fill="#555" stroke="none" stroke-width="1"/>
<rect x="507.4" y="40.7" width="20.799999999999955" height="1.3" rx="0" fill="#000" stroke="none" stroke-width="1"/>
<rect x="507.4" y="112.2" width="20.799999999999955" height="1.3" rx="0" fill="#000" stroke="none" stroke-width="1"/>
<rect x="507.4" y="41.5" width="1.1" height="71.2" rx="0" fill="#000" stroke="none" stroke-width="1"/>
<rect x="526.1999999999999" y="41.5" width="2" height="71.2" rx="0" fill="#000" stroke="none" stroke-width="1"/>
<rect x="519.0" y="41.5" width="1.1" height="71.2" rx="0" fill="#999" stroke="none" stroke-width="1"/>
<rect x="509.29999999999995" y="42.1" width="8.9" height="5.93" rx="0" fill="#000" stroke="none" stroke-width="1"/>
<rect x="510.79999999999995" y="43.665" width="3.7" height="2.8" rx="0" fill="#fff" stroke="none" stroke-width="1"/>
<path d="M515.3,43.765 L517.6,43.165 L517.6,46.964999999999996 L515.3,46.364999999999995 Z" fill="#fff"/>
<rect x="509.29999999999995" y="49.03" width="8.9" height="5.93" rx="0" fill="#000" stroke="none" stroke-width="1"/>
<rect x="510.79999999999995" y="50.595000000000006" width="3.7" height="2.8" rx="0" fill="#fff" stroke="none" stroke-width="1"/>
<path d="M515.3,50.69500000000001 L517.6,50.095000000000006 L517.6,53.895 L515.3,53.295 Z" fill="#fff"/>
<rect x="509.29999999999995" y="55.96" width="8.9" height="5.93" rx="0" fill="#000" stroke="none" stroke-width="1"/>
<rect x="510.79999999999995" y="57.525" width="3.7" height="2.8" rx="0" fill="#fff" stroke="none" stroke-width="1"/>
<path d="M515.3,57.625 L517.6,57.025 L517.6,60.824999999999996 L515.3,60.224999999999994 Z" fill="#fff"/>
<rect x="509.29999999999995" y="62.89" width="8.9" height="5.93" rx="0" fill="#000" stroke="none" stroke-width="1"/>
<rect x="510.79999999999995" y="64.455" width="3.7" height="2.8" rx="0" fill="#fff" stroke="none" stroke-width="1"/>
<path d="M515.3,64.555 L517.6,63.955000000000005 L517.6,67.75500000000001 L515.3,67.155 Z" fill="#fff"/>
<rect x="509.29999999999995" y="69.82" width="8.9" height="5.93" rx="0" fill="#000" stroke="none" stroke-width="1"/>
<rect x="510.79999999999995" y="71.38499999999999" width="3.7" height="2.8" rx="0" fill="#fff" stroke="none" stroke-width="1"/>
<path d="M515.3,71.485 L517.6,70.88499999999999 L517.6,74.685 L515.3,74.085 Z" fill="#fff"/>
<rect x="509.29999999999995" y="76.75" width="8.9" height="5.93" rx="0" fill="#000" stroke="none" stroke-width="1"/>
<rect x="510.79999999999995" y="78.315" width="3.7" height="2.8" rx="0" fill="#fff" stroke="none" stroke-width="1"/>
<path d="M515.3,78.415 L517.6,77.815 L517.6,81.61500000000001 L515.3,81.015 Z" fill="#fff"/>
<rect x="509.29999999999995" y="83.68" width="8.9" height="5.93" rx="0" fill="#000" stroke="none" stroke-width="1"/>
<rect x="510.79999999999995" y="85.245" width="3.7" height="2.8" rx="0" fill="#fff" stroke="none" stroke-width="1"/>
<path d="M515.3,85.34500000000001 L517.6,84.745 L517.6,88.54500000000002 L515.3,87.94500000000001 Z" fill="#fff"/>
<rect x="509.29999999999995" y="90.61" width="8.9" height="5.93" rx="0" fill="#000" stroke="none" stroke-width="1"/>
<rect x="510.79999999999995" y="92.175" width="3.7" height="2.8" rx="0" fill="#fff" stroke="none" stroke-width="1"/>
<path d="M515.3,92.275 L517.6,91.675 L517.6,95.47500000000001 L515.3,94.875 Z" fill="#fff"/>
<rect x="509.29999999999995" y="97.53999999999999" width="8.9" height="5.93" rx="0" fill="#000" stroke="none" stroke-width="1"/>
<rect x="510.79999999999995" y="99.10499999999999" width="3.7" height="2.8" rx="0" fill="#fff" stroke="none" stroke-width="1"/>
<path d="M515.3,99.205 L517.6,98.60499999999999 L517.6,102.405 L515.3,101.80499999999999 Z" fill="#fff"/>
<rect x="509.29999999999995" y="104.47" width="8.9" height="5.93" rx="0" fill="#000" stroke="none" stroke-width="1"/>
<rect x="510.79999999999995" y="106.035" width="3.7" height="2.8" rx="0" fill="#fff" stroke="none" stroke-width="1"/>
<path d="M515.3,106.135 L517.6,105.535 L517.6,109.33500000000001 L515.3,108.735 Z" fill="#fff"/>
<rect x="537.6" y="38.6" width="15.399999999999954" height="1.7" rx="0" fill="#555" stroke="none" stroke-width="1"/>
<rect x="532.6" y="40.7" width="20.799999999999955" height="1.3" rx="0" fill="#000" stroke="none" stroke-width="1"/>
<rect x="532.6" y="112.2" width="20.799999999999955" height="1.3" rx="0" fill="#000" stroke="none" stroke-width="1"/>
<rect x="532.6" y="41.5" width="1.1" height="71.2" rx="0" fill="#000" stroke="none" stroke-width="1"/>
<rect x="551.4" y="41.5" width="2" height="71.2" rx="0" fill="#000" stroke="none" stroke-width="1"/>
<rect x="544.2" y="41.5" width="1.1" height="71.2" rx="0" fill="#999" stroke="none" stroke-width="1"/>
<rect x="534.5" y="42.1" width="8.9" height="5.93" rx="0" fill="#000" stroke="none" stroke-width="1"/>
<rect x="536.0" y="43.665" width="3.7" height="2.8" rx="0" fill="#fff" stroke="none" stroke-width="1"/>
<path d="M540.5,43.765 L542.8000000000001,43.165 L542.8000000000001,46.964999999999996 L540.5,46.364999999999995 Z" fill="#fff"/>
<rect x="534.5" y="49.03" width="8.9" height="5.93" rx="0" fill="#000" stroke="none" stroke-width="1"/>
<rect x="536.0" y="50.595000000000006" width="3.7" height="2.8" rx="0" fill="#fff" stroke="none" stroke-width="1"/>
<path d="M540.5,50.69500000000001 L542.8000000000001,50.095000000000006 L542.8000000000001,53.895 L540.5,53.295 Z" fill="#fff"/>
<rect x="534.5" y="55.96" width="8.9" height="5.93" rx="0" fill="#000" stroke="none" stroke-width="1"/>
<rect x="536.0" y="57.525" width="3.7" height="2.8" rx="0" fill="#fff" stroke="none" stroke-width="1"/>
<path d="M540.5,57.625 L542.8000000000001,57.025 L542.8000000000001,60.824999999999996 L540.5,60.224999999999994 Z" fill="#fff"/>
<rect x="534.5" y="62.89" width="8.9" height="5.93" rx="0" fill="#000" stroke="none" stroke-width="1"/>
<rect x="536.0" y="64.455" width="3.7" height="2.8" rx="0" fill="#fff" stroke="none" stroke-width="1"/>
<path d="M540.5,64.555 L542.8000000000001,63.955000000000005 L542.8000000000001,67.75500000000001 L540.5,67.155 Z" fill="#fff"/>
<rect x="534.5" y="69.82" width="8.9" height="5.93" rx="0" fill="#000" stroke="none" stroke-width="1"/>
<rect x="536.0" y="71.38499999999999" width="3.7" height="2.8" rx="0" fill="#fff" stroke="none" stroke-width="1"/>
<path d="M540.5,71.485 L542.8000000000001,70.88499999999999 L542.8000000000001,74.685 L540.5,74.085 Z" fill="#fff"/>
<rect x="534.5" y="76.75" width="8.9" height="5.93" rx="0" fill="#000" stroke="none" stroke-width="1"/>
<rect x="536.0" y="78.315" width="3.7" height="2.8" rx="0" fill="#fff" stroke="none" stroke-width="1"/>
<path d="M540.5,78.415 L542.8000000000001,77.815 L542.8000000000001,81.61500000000001 L540.5,81.015 Z" fill="#fff"/>
<rect x="534.5" y="83.68" width="8.9" height="5.93" rx="0" fill="#000" stroke="none" stroke-width="1"/>
<rect x="536.0" y="85.245" width="3.7" height="2.8" rx="0" fill="#fff" stroke="none" stroke-width="1"/>
<path d="M540.5,85.34500000000001 L542.8000000000001,84.745 L542.8000000000001,88.54500000000002 L540.5,87.94500000000001 Z" fill="#fff"/>
<rect x="534.5" y="90.61" width="8.9" height="5.93" rx="0" fill="#000" stroke="none" stroke-width="1"/>
<rect x="536.0" y="92.175" width="3.7" height="2.8" rx="0" fill="#fff" stroke="none" stroke-width="1"/>
<path d="M540.5,92.275 L542.8000000000001,91.675 L542.8000000000001,95.47500000000001 L540.5,94.875 Z" fill="#fff"/>
<rect x="534.5" y="97.53999999999999" width="8.9" height="5.93" rx="0" fill="#000" stroke="none" stroke-width="1"/>
<rect x="536.0" y="99.10499999999999" width="3.7" height="2.8" rx="0" fill="#fff" stroke="none" stroke-width="1"/>
<path d="M540.5,99.205 L542.8000000000001,98.60499999999999 L542.8000000000001,102.405 L540.5,101.80499999999999 Z" fill="#fff"/>
<rect x="534.5" y="104.47" width="8.9" height="5.93" rx="0" fill="#000" stroke="none" stroke-width="1"/>
<rect x="536.0" y="106.035" width="3.7" height="2.8" rx="0" fill="#fff" stroke="none" stroke-width="1"/>
<path d="M540.5,106.135 L542.8000000000001,105.535 L542.8000000000001,109.33500000000001 L540.5,108.735 Z" fill="#fff"/>
<rect x="562.9" y="38.6" width="15.399999999999954" height="1.7" rx="0" fill="#555" stroke="none" stroke-width="1"/>
<rect x="557.9" y="40.7" width="20.799999999999955" height="1.3" rx="0" fill="#000" stroke="none" stroke-width="1"/>
<rect x="557.9" y="112.2" width="20.799999999999955" height="1.3" rx="0" fill="#000" stroke="none" stroke-width="1"/>
<rect x="557.9" y="41.5" width="1.1" height="71.2" rx="0" fill="#000" stroke="none" stroke-width="1"/>
<rect x="576.6999999999999" y="41.5" width="2" height="71.2" rx="0" fill="#000" stroke="none" stroke-width="1"/>
<rect x="569.5" y="41.5" width="1.1" height="71.2" rx="0" fill="#999" stroke="none" stroke-width="1"/>
<rect x="559.8" y="42.1" width="8.9" height="5.93" rx="0" fill="#000" stroke="none" stroke-width="1"/>
<rect x="561.3" y="43.665" width="3.7" height="2.8" rx="0" fill="#fff" stroke="none" stroke-width="1"/>
<path d="M565.8,43.765 L568.1,43.165 L568.1,46.964999999999996 L565.8,46.364999999999995 Z" fill="#fff"/>
<rect x="559.8" y="49.03" width="8.9" height="5.93" rx="0" fill="#000" stroke="none" stroke-width="1"/>
<rect x="561.3" y="50.595000000000006" width="3.7" height="2.8" rx="0" fill="#fff" stroke="none" stroke-width="1"/>
<path d="M565.8,50.69500000000001 L568.1,50.095000000000006 L568.1,53.895 L565.8,53.295 Z" fill="#fff"/>
<rect x="559.8" y="55.96" width="8.9" height="5.93" rx="0" fill="#000" stroke="none" stroke-width="1"/>
<rect x="561.3" y="57.525" width="3.7" height="2.8" rx="0" fill="#fff" stroke="none" stroke-width="1"/>
<path d="M565.8,57.625 L568.1,57.025 L568.1,60.824999999999996 L565.8,60.224999999999994 Z" fill="#fff"/>
<rect x="559.8" y="62.89" width="8.9" height="5.93" rx="0" fill="#000" stroke="none" stroke-width="1"/>
<rect x="561.3" y="64.455" width="3.7" height="2.8" rx="0" fill="#fff" stroke="none" stroke-width="1"/>
<path d="M565.8,64.555 L568.1,63.955000000000005 L568.1,67.75500000000001 L565.8,67.155 Z" fill="#fff"/>
<rect x="559.8" y="69.82" width="8.9" height="5.93" rx="0" fill="#000" stroke="none" stroke-width="1"/>
<rect x="561.3" y="71.38499999999999" width="3.7" height="2.8" rx="0" fill="#fff" stroke="none" stroke-width="1"/>
<path d="M565.8,71.485 L568.1,70.88499999999999 L568.1,74.685 L565.8,74.085 Z" fill="#fff"/>
<rect x="559.8" y="76.75" width="8.9" height="5.93" rx="0" fill="#000" stroke="none" stroke-width="1"/>
<rect x="561.3" y="78.315" width="3.7" height="2.8" rx="0" fill="#fff" stroke="none" stroke-width="1"/>
<path d="M565.8,78.415 L568.1,77.815 L568.1,81.61500000000001 L565.8,81.015 Z" fill="#fff"/>
<rect x="559.8" y="83.68" width="8.9" height="5.93" rx="0" fill="#000" stroke="none" stroke-width="1"/>
<rect x="561.3" y="85.245" width="3.7" height="2.8" rx="0" fill="#fff" stroke="none" stroke-width="1"/>
<path d="M565.8,85.34500000000001 L568.1,84.745 L568.1,88.54500000000002 L565.8,87.94500000000001 Z" fill="#fff"/>
<rect x="559.8" y="90.61" width="8.9" height="5.93" rx="0" fill="#000" stroke="none" stroke-width="1"/>
<rect x="561.3" y="92.175" width="3.7" height="2.8" rx="0" fill="#fff" stroke="none" stroke-width="1"/>
<path d="M565.8,92.275 L568.1,91.675 L568.1,95.47500000000001 L565.8,94.875 Z" fill="#fff"/>
<rect x="559.8" y="97.53999999999999" width="8.9" height="5.93" rx="0" fill="#000" stroke="none" stroke-width="1"/>
<rect x="561.3" y="99.10499999999999" width="3.7" height="2.8" rx="0" fill="#fff" stroke="none" stroke-width="1"/>
<path d="M565.8,99.205 L568.1,98.60499999999999 L568.1,102.405 L565.8,101.80499999999999 Z" fill="#fff"/>
<rect x="559.8" y="104.47" width="8.9" height="5.93" rx="0" fill="#000" stroke="none" stroke-width="1"/>
<rect x="561.3" y="106.035" width="3.7" height="2.8" rx="0" fill="#fff" stroke="none" stroke-width="1"/>
<path d="M565.8,106.135 L568.1,105.535 L568.1,109.33500000000001 L565.8,108.735 Z" fill="#fff"/>
<rect x="601.6" y="38.6" width="15.399999999999954" height="1.7" rx="0" fill="#555" stroke="none" stroke-width="1"/>
<rect x="596.6" y="40.7" width="20.799999999999955" height="1.3" rx="0" fill="#000" stroke="none" stroke-width="1"/>
<rect x="596.6" y="112.2" width="20.799999999999955" height="1.3" rx="0" fill="#000" stroke="none" stroke-width="1"/>
<rect x="596.6" y="41.5" width="1.1" height="71.2" rx="0" fill="#000" stroke="none" stroke-width="1"/>
<rect x="615.4" y="41.5" width="2" height="71.2" rx="0" fill="#000" stroke="none" stroke-width="1"/>
<rect x="608.2" y="41.5" width="1.1" height="71.2" rx="0" fill="#999" stroke="none" stroke-width="1"/>
<rect x="598.5" y="42.1" width="8.9" height="5.93" rx="0" fill="#000" stroke="none" stroke-width="1"/>
<rect x="600.0" y="43.665" width="3.7" height="2.8" rx="0" fill="#fff" stroke="none" stroke-width="1"/>
<path d="M604.5,43.765 L606.8000000000001,43.165 L606.8000000000001,46.964999999999996 L604.5,46.364999999999995 Z" fill="#fff"/>
<rect x="598.5" y="49.03" width="8.9" height="5.93" rx="0" fill="#000" stroke="none" stroke-width="1"/>
<rect x="600.0" y="50.595000000000006" width="3.7" height="2.8" rx="0" fill="#fff" stroke="none" stroke-width="1"/>
<path d="M604.5,50.69500000000001 L606.8000000000001,50.095000000000006 L606.8000000000001,53.895 L604.5,53.295 Z" fill="#fff"/>
<rect x="598.5" y="55.96" width="8.9" height="5.93" rx="0" fill="#000" stroke="none" stroke-width="1"/>
<rect x="600.0" y="57.525" width="3.7" height="2.8" rx="0" fill="#fff" stroke="none" stroke-width="1"/>
<path d="M604.5,57.625 L606.8000000000001,57.025 L606.8000000000001,60.824999999999996 L604.5,60.224999999999994 Z" fill="#fff"/>
<rect x="598.5" y="62.89" width="8.9" height="5.93" rx="0" fill="#000" stroke="none" stroke-width="1"/>
<rect x="600.0" y="64.455" width="3.7" height="2.8" rx="0" fill="#fff" stroke="none" stroke-width="1"/>
<path d="M604.5,64.555 L606.8000000000001,63.955000000000005 L606.8000000000001,67.75500000000001 L604.5,67.155 Z" fill="#fff"/>
<rect x="598.5" y="69.82" width="8.9" height="5.93" rx="0" fill="#000" stroke="none" stroke-width="1"/>
<rect x="600.0" y="71.38499999999999" width="3.7" height="2.8" rx="0" fill="#fff" stroke="none" stroke-width="1"/>
<path d="M604.5,71.485 L606.8000000000001,70.88499999999999 L606.8000000000001,74.685 L604.5,74.085 Z" fill="#fff"/>
<rect x="598.5" y="76.75" width="8.9" height="5.93" rx="0" fill="#000" stroke="none" stroke-width="1"/>
<rect x="600.0" y="78.315" width="3.7" height="2.8" rx="0" fill="#fff" stroke="none" stroke-width="1"/>
<path d="M604.5,78.415 L606.8000000000001,77.815 L606.8000000000001,81.61500000000001 L604.5,81.015 Z" fill="#fff"/>
<rect x="598.5" y="83.68" width="8.9" height="5.93" rx="0" fill="#000" stroke="none" stroke-width="1"/>
<rect x="600.0" y="85.245" width="3.7" height="2.8" rx="0" fill="#fff" stroke="none" stroke-width="1"/>
<path d="M604.5,85.34500000000001 L606.8000000000001,84.745 L606.8000000000001,88.54500000000002 L604.5,87.94500000000001 Z" fill="#fff"/>
<rect x="598.5" y="90.61" width="8.9" height="5.93" rx="0" fill="#000" stroke="none" stroke-width="1"/>
<rect x="600.0" y="92.175" width="3.7" height="2.8" rx="0" fill="#fff" stroke="none" stroke-width="1"/>
<path d="M604.5,92.275 L606.8000000000001,91.675 L606.8000000000001,95.47500000000001 L604.5,94.875 Z" fill="#fff"/>
<rect x="598.5" y="97.53999999999999" width="8.9" height="5.93" rx="0" fill="#000" stroke="none" stroke-width="1"/>
<rect x="600.0" y="99.10499999999999" width="3.7" height="2.8" rx="0" fill="#fff" stroke="none" stroke-width="1"/>
<path d="M604.5,99.205 L606.8000000000001,98.60499999999999 L606.8000000000001,102.405 L604.5,101.80499999999999 Z" fill="#fff"/>
<rect x="598.5" y="104.47" width="8.9" height="5.93" rx="0" fill="#000" stroke="none" stroke-width="1"/>
<rect x="600.0" y="106.035" width="3.7" height="2.8" rx="0" fill="#fff" stroke="none" stroke-width="1"/>
<path d="M604.5,106.135 L606.8000000000001,105.535 L606.8000000000001,109.33500000000001 L604.5,108.735 Z" fill="#fff"/>
<rect x="626" y="38.6" width="15.399999999999954" height="1.7" rx="0" fill="#555" stroke="none" stroke-width="1"/>
<rect x="621" y="40.7" width="20.799999999999955" height="1.3" rx="0" fill="#000" stroke="none" stroke-width="1"/>
<rect x="621" y="112.2" width="20.799999999999955" height="1.3" rx="0" fill="#000" stroke="none" stroke-width="1"/>
<rect x="621" y="41.5" width="1.1" height="71.2" rx="0" fill="#000" stroke="none" stroke-width="1"/>
<rect x="639.8" y="41.5" width="2" height="71.2" rx="0" fill="#000" stroke="none" stroke-width="1"/>
<rect x="632.6" y="41.5" width="1.1" height="71.2" rx="0" fill="#999" stroke="none" stroke-width="1"/>
<rect x="622.9" y="42.1" width="8.9" height="5.93" rx="0" fill="#000" stroke="none" stroke-width="1"/>
<rect x="624.4" y="43.665" width="3.7" height="2.8" rx="0" fill="#fff" stroke="none" stroke-width="1"/>
<path d="M628.9,43.765 L631.2,43.165 L631.2,46.964999999999996 L628.9,46.364999999999995 Z" fill="#fff"/>
<rect x="622.9" y="49.03" width="8.9" height="5.93" rx="0" fill="#000" stroke="none" stroke-width="1"/>
<rect x="624.4" y="50.595000000000006" width="3.7" height="2.8" rx="0" fill="#fff" stroke="none" stroke-width="1"/>
<path d="M628.9,50.69500000000001 L631.2,50.095000000000006 L631.2,53.895 L628.9,53.295 Z" fill="#fff"/>
<rect x="622.9" y="55.96" width="8.9" height="5.93" rx="0" fill="#000" stroke="none" stroke-width="1"/>
<rect x="624.4" y="57.525" width="3.7" height="2.8" rx="0" fill="#fff" stroke="none" stroke-width="1"/>
<path d="M628.9,57.625 L631.2,57.025 L631.2,60.824999999999996 L628.9,60.224999999999994 Z" fill="#fff"/>
<rect x="622.9" y="62.89" width="8.9" height="5.93" rx="0" fill="#000" stroke="none" stroke-width="1"/>
<rect x="624.4" y="64.455" width="3.7" height="2.8" rx="0" fill="#fff" stroke="none" stroke-width="1"/>
<path d="M628.9,64.555 L631.2,63.955000000000005 L631.2,67.75500000000001 L628.9,67.155 Z" fill="#fff"/>
<rect x="622.9" y="69.82" width="8.9" height="5.93" rx="0" fill="#000" stroke="none" stroke-width="1"/>
<rect x="624.4" y="71.38499999999999" width="3.7" height="2.8" rx="0" fill="#fff" stroke="none" stroke-width="1"/>
<path d="M628.9,71.485 L631.2,70.88499999999999 L631.2,74.685 L628.9,74.085 Z" fill="#fff"/>
<rect x="622.9" y="76.75" width="8.9" height="5.93" rx="0" fill="#000" stroke="none" stroke-width="1"/>
<rect x="624.4" y="78.315" width="3.7" height="2.8" rx="0" fill="#fff" stroke="none" stroke-width="1"/>
<path d="M628.9,78.415 L631.2,77.815 L631.2,81.61500000000001 L628.9,81.015 Z" fill="#fff"/>
<rect x="622.9" y="83.68" width="8.9" height="5.93" rx="0" fill="#000" stroke="none" stroke-width="1"/>
<rect x="624.4" y="85.245" width="3.7" height="2.8" rx="0" fill="#fff" stroke="none" stroke-width="1"/>
<path d="M628.9,85.34500000000001 L631.2,84.745 L631.2,88.54500000000002 L628.9,87.94500000000001 Z" fill="#fff"/>
<rect x="622.9" y="90.61" width="8.9" height="5.93" rx="0" fill="#000" stroke="none" stroke-width="1"/>
<rect x="624.4" y="92.175" width="3.7" height="2.8" rx="0" fill="#fff" stroke="none" stroke-width="1"/>
<path d="M628.9,92.275 L631.2,91.675 L631.2,95.47500000000001 L628.9,94.875 Z" fill="#fff"/>
<rect x="622.9" y="97.53999999999999" width="8.9" height="5.93" rx="0" fill="#000" stroke="none" stroke-width="1"/>
<rect x="624.4" y="99.10499999999999" width="3.7" height="2.8" rx="0" fill="#fff" stroke="none" stroke-width="1"/>
<path d="M628.9,99.205 L631.2,98.60499999999999 L631.2,102.405 L628.9,101.80499999999999 Z" fill="#fff"/>
<rect x="622.9" y="104.47" width="8.9" height="5.93" rx="0" fill="#000" stroke="none" stroke-width="1"/>
<rect x="624.4" y="106.035" width="3.7" height="2.8" rx="0" fill="#fff" stroke="none" stroke-width="1"/>
<path d="M628.9,106.135 L631.2,105.535 L631.2,109.33500000000001 L628.9,108.735 Z" fill="#fff"/>
<rect x="633.4" y="42.2" width="3.6" height="69.8" rx="0" fill="#b0b0b0" stroke="none" stroke-width="1"/>
<text x="374.20000000000005" y="121" font-family="Liberation Sans" font-size="8.1" font-weight="normal" fill="#000" textLength="13.20" lengthAdjust="spacingAndGlyphs" stroke="#000" stroke-width="0.3">X10</text>
<text x="374.3" y="130.2" font-family="Liberation Sans" font-size="7.4" font-weight="normal" fill="#000" textLength="12.60" lengthAdjust="spacingAndGlyphs" stroke="#000" stroke-width="0.25">MP6</text>
<text x="400.20000000000005" y="121" font-family="Liberation Sans" font-size="8.1" font-weight="normal" fill="#000" textLength="13.50" lengthAdjust="spacingAndGlyphs" stroke="#000" stroke-width="0.3">X20</text>
<text x="396.09999999999997" y="130.2" font-family="Liberation Sans" font-size="7.4" font-weight="normal" fill="#000" textLength="20.10" lengthAdjust="spacingAndGlyphs" stroke="#000" stroke-width="0.25">NCRDY</text>
<text x="422.5" y="121" font-family="Liberation Sans" font-size="8.1" font-weight="normal" fill="#000" textLength="17.10" lengthAdjust="spacingAndGlyphs" stroke="#000" stroke-width="0.3">X100</text>
<text x="424.7" y="130.2" font-family="Liberation Sans" font-size="7.4" font-weight="normal" fill="#000" textLength="14.80" lengthAdjust="spacingAndGlyphs" stroke="#000" stroke-width="0.25">DIN0</text>
<text x="448.0" y="121" font-family="Liberation Sans" font-size="8.1" font-weight="normal" fill="#000" textLength="15.60" lengthAdjust="spacingAndGlyphs" stroke="#000" stroke-width="0.3">X101</text>
<text x="449.09999999999997" y="130.2" font-family="Liberation Sans" font-size="7.4" font-weight="normal" fill="#000" textLength="14.40" lengthAdjust="spacingAndGlyphs" stroke="#000" stroke-width="0.25">DIN1</text>
<text x="486.20000000000005" y="121" font-family="Liberation Sans" font-size="8.1" font-weight="normal" fill="#000" textLength="17.10" lengthAdjust="spacingAndGlyphs" stroke="#000" stroke-width="0.3">X102</text>
<text x="487.7" y="130.2" font-family="Liberation Sans" font-size="7.4" font-weight="normal" fill="#000" textLength="15.10" lengthAdjust="spacingAndGlyphs" stroke="#000" stroke-width="0.25">DIN2</text>
<text x="511.6" y="121" font-family="Liberation Sans" font-size="8.1" font-weight="normal" fill="#000" textLength="16.70" lengthAdjust="spacingAndGlyphs" stroke="#000" stroke-width="0.3">X103</text>
<text x="513.8000000000001" y="130.2" font-family="Liberation Sans" font-size="7.4" font-weight="normal" fill="#000" textLength="14.40" lengthAdjust="spacingAndGlyphs" stroke="#000" stroke-width="0.25">DIN3</text>
<text x="537.1" y="121" font-family="Liberation Sans" font-size="8.1" font-weight="normal" fill="#000" textLength="16.10" lengthAdjust="spacingAndGlyphs" stroke="#000" stroke-width="0.3">X104</text>
<text x="539.6" y="130.2" font-family="Liberation Sans" font-size="7.4" font-weight="normal" fill="#000" textLength="13.50" lengthAdjust="spacingAndGlyphs" stroke="#000" stroke-width="0.25">DIN4</text>
<text x="562.8000000000001" y="121" font-family="Liberation Sans" font-size="8.1" font-weight="normal" fill="#000" textLength="16.20" lengthAdjust="spacingAndGlyphs" stroke="#000" stroke-width="0.3">X105</text>
<text x="564.6" y="130.2" font-family="Liberation Sans" font-size="7.4" font-weight="normal" fill="#000" textLength="14.30" lengthAdjust="spacingAndGlyphs" stroke="#000" stroke-width="0.25">DIN5</text>
<text x="600.6" y="121" font-family="Liberation Sans" font-size="8.1" font-weight="normal" fill="#000" textLength="18.10" lengthAdjust="spacingAndGlyphs" stroke="#000" stroke-width="0.3">X200</text>
<text x="599.6" y="130.2" font-family="Liberation Sans" font-size="7.4" font-weight="normal" fill="#000" textLength="19.70" lengthAdjust="spacingAndGlyphs" stroke="#000" stroke-width="0.25">DOUT0</text>
<text x="625.6" y="121" font-family="Liberation Sans" font-size="8.1" font-weight="normal" fill="#000" textLength="18.20" lengthAdjust="spacingAndGlyphs" stroke="#000" stroke-width="0.3">X201</text>
<text x="625.0" y="130.2" font-family="Liberation Sans" font-size="7.4" font-weight="normal" fill="#000" textLength="18.70" lengthAdjust="spacingAndGlyphs" stroke="#000" stroke-width="0.25">DOUT1</text>
<text transform="translate(468.5,55.20) scale(0.72,1)" font-family="Liberation Sans" font-size="7.2" fill="#000" text-anchor="middle" stroke="#000" stroke-width="0.4">0</text>
<text transform="translate(468.5,62.13) scale(0.72,1)" font-family="Liberation Sans" font-size="7.2" fill="#000" text-anchor="middle" stroke="#000" stroke-width="0.4">1</text>
<text transform="translate(468.5,69.06) scale(0.72,1)" font-family="Liberation Sans" font-size="7.2" fill="#000" text-anchor="middle" stroke="#000" stroke-width="0.4">2</text>
<text transform="translate(468.5,89.85) scale(0.72,1)" font-family="Liberation Sans" font-size="7.2" fill="#000" text-anchor="middle" stroke="#000" stroke-width="0.4">5</text>
<text transform="translate(468.5,96.78) scale(0.72,1)" font-family="Liberation Sans" font-size="7.2" fill="#000" text-anchor="middle" stroke="#000" stroke-width="0.4">6</text>
<text transform="translate(468.5,103.71) scale(0.72,1)" font-family="Liberation Sans" font-size="7.2" fill="#000" text-anchor="middle" stroke="#000" stroke-width="0.4">7</text>
<text transform="translate(468.5,110.64) scale(0.72,1)" font-family="Liberation Sans" font-size="7.2" fill="#000" text-anchor="middle" stroke="#000" stroke-width="0.4">M</text>
<text transform="translate(582.4,55.20) scale(0.72,1)" font-family="Liberation Sans" font-size="7.2" fill="#000" text-anchor="middle" stroke="#000" stroke-width="0.4">0</text>
<text transform="translate(582.4,62.13) scale(0.72,1)" font-family="Liberation Sans" font-size="7.2" fill="#000" text-anchor="middle" stroke="#000" stroke-width="0.4">1</text>
<text transform="translate(582.4,69.06) scale(0.72,1)" font-family="Liberation Sans" font-size="7.2" fill="#000" text-anchor="middle" stroke="#000" stroke-width="0.4">2</text>
<text transform="translate(582.4,89.85) scale(0.72,1)" font-family="Liberation Sans" font-size="7.2" fill="#000" text-anchor="middle" stroke="#000" stroke-width="0.4">5</text>
<text transform="translate(582.4,96.78) scale(0.72,1)" font-family="Liberation Sans" font-size="7.2" fill="#000" text-anchor="middle" stroke="#000" stroke-width="0.4">6</text>
<text transform="translate(582.4,103.71) scale(0.72,1)" font-family="Liberation Sans" font-size="7.2" fill="#000" text-anchor="middle" stroke="#000" stroke-width="0.4">7</text>
<text transform="translate(582.4,110.64) scale(0.72,1)" font-family="Liberation Sans" font-size="7.2" fill="#000" text-anchor="middle" stroke="#000" stroke-width="0.4">M</text>
<text transform="translate(646,55.20) scale(0.72,1)" font-family="Liberation Sans" font-size="7.2" fill="#000" text-anchor="middle" stroke="#000" stroke-width="0.4">0</text>
<text transform="translate(646,62.13) scale(0.72,1)" font-family="Liberation Sans" font-size="7.2" fill="#000" text-anchor="middle" stroke="#000" stroke-width="0.4">1</text>
<text transform="translate(646,69.06) scale(0.72,1)" font-family="Liberation Sans" font-size="7.2" fill="#000" text-anchor="middle" stroke="#000" stroke-width="0.4">2</text>
<text transform="translate(646,75.99) scale(0.72,1)" font-family="Liberation Sans" font-size="7.2" fill="#000" text-anchor="middle" stroke="#000" stroke-width="0.4">3</text>
<text transform="translate(646,82.92) scale(0.72,1)" font-family="Liberation Sans" font-size="7.2" fill="#000" text-anchor="middle" stroke="#000" stroke-width="0.4">4</text>
<text transform="translate(646,89.85) scale(0.72,1)" font-family="Liberation Sans" font-size="7.2" fill="#000" text-anchor="middle" stroke="#000" stroke-width="0.4">5</text>
<text transform="translate(646,96.78) scale(0.72,1)" font-family="Liberation Sans" font-size="7.2" fill="#000" text-anchor="middle" stroke="#000" stroke-width="0.4">6</text>
<text transform="translate(646,103.71) scale(0.72,1)" font-family="Liberation Sans" font-size="7.2" fill="#000" text-anchor="middle" stroke="#000" stroke-width="0.4">7</text>
<text transform="translate(646,110.64) scale(0.72,1)" font-family="Liberation Sans" font-size="7.2" fill="#000" text-anchor="middle" stroke="#000" stroke-width="0.4">M</text>
<text transform="translate(442.3,55.20) scale(0.72,1)" font-family="Liberation Sans" font-size="7.2" fill="#444" text-anchor="middle" stroke="#444" stroke-width="0.4">0</text>
<text transform="translate(442.3,62.13) scale(0.72,1)" font-family="Liberation Sans" font-size="7.2" fill="#444" text-anchor="middle" stroke="#444" stroke-width="0.4">1</text>
<text transform="translate(442.3,69.06) scale(0.72,1)" font-family="Liberation Sans" font-size="7.2" fill="#444" text-anchor="middle" stroke="#444" stroke-width="0.4">2</text>
<text transform="translate(442.3,75.99) scale(0.72,1)" font-family="Liberation Sans" font-size="7.2" fill="#444" text-anchor="middle" stroke="#444" stroke-width="0.4">3</text>
<text transform="translate(442.3,82.92) scale(0.72,1)" font-family="Liberation Sans" font-size="7.2" fill="#444" text-anchor="middle" stroke="#444" stroke-width="0.4">4</text>
<text transform="translate(442.3,89.85) scale(0.72,1)" font-family="Liberation Sans" font-size="7.2" fill="#444" text-anchor="middle" stroke="#444" stroke-width="0.4">5</text>
<text transform="translate(442.3,96.78) scale(0.72,1)" font-family="Liberation Sans" font-size="7.2" fill="#444" text-anchor="middle" stroke="#444" stroke-width="0.4">6</text>
<text transform="translate(442.3,103.71) scale(0.72,1)" font-family="Liberation Sans" font-size="7.2" fill="#444" text-anchor="middle" stroke="#444" stroke-width="0.4">7</text>
<text transform="translate(442.3,110.64) scale(0.72,1)" font-family="Liberation Sans" font-size="7.2" fill="#444" text-anchor="middle" stroke="#444" stroke-width="0.4">M</text>
<text transform="translate(506.4,55.20) scale(0.72,1)" font-family="Liberation Sans" font-size="7.2" fill="#444" text-anchor="middle" stroke="#444" stroke-width="0.4">0</text>
<text transform="translate(506.4,62.13) scale(0.72,1)" font-family="Liberation Sans" font-size="7.2" fill="#444" text-anchor="middle" stroke="#444" stroke-width="0.4">1</text>
<text transform="translate(506.4,69.06) scale(0.72,1)" font-family="Liberation Sans" font-size="7.2" fill="#444" text-anchor="middle" stroke="#444" stroke-width="0.4">2</text>
<text transform="translate(506.4,75.99) scale(0.72,1)" font-family="Liberation Sans" font-size="7.2" fill="#444" text-anchor="middle" stroke="#444" stroke-width="0.4">3</text>
<text transform="translate(506.4,82.92) scale(0.72,1)" font-family="Liberation Sans" font-size="7.2" fill="#444" text-anchor="middle" stroke="#444" stroke-width="0.4">4</text>
<text transform="translate(506.4,89.85) scale(0.72,1)" font-family="Liberation Sans" font-size="7.2" fill="#444" text-anchor="middle" stroke="#444" stroke-width="0.4">5</text>
<text transform="translate(506.4,96.78) scale(0.72,1)" font-family="Liberation Sans" font-size="7.2" fill="#444" text-anchor="middle" stroke="#444" stroke-width="0.4">6</text>
<text transform="translate(506.4,103.71) scale(0.72,1)" font-family="Liberation Sans" font-size="7.2" fill="#444" text-anchor="middle" stroke="#444" stroke-width="0.4">7</text>
<text transform="translate(506.4,110.64) scale(0.72,1)" font-family="Liberation Sans" font-size="7.2" fill="#444" text-anchor="middle" stroke="#444" stroke-width="0.4">M</text>
<text transform="translate(531.5,55.20) scale(0.72,1)" font-family="Liberation Sans" font-size="7.2" fill="#444" text-anchor="middle" stroke="#444" stroke-width="0.4">0</text>
<text transform="translate(531.5,62.13) scale(0.72,1)" font-family="Liberation Sans" font-size="7.2" fill="#444" text-anchor="middle" stroke="#444" stroke-width="0.4">1</text>
<text transform="translate(531.5,69.06) scale(0.72,1)" font-family="Liberation Sans" font-size="7.2" fill="#444" text-anchor="middle" stroke="#444" stroke-width="0.4">2</text>
<text transform="translate(531.5,75.99) scale(0.72,1)" font-family="Liberation Sans" font-size="7.2" fill="#444" text-anchor="middle" stroke="#444" stroke-width="0.4">3</text>
<text transform="translate(531.5,82.92) scale(0.72,1)" font-family="Liberation Sans" font-size="7.2" fill="#444" text-anchor="middle" stroke="#444" stroke-width="0.4">4</text>
<text transform="translate(531.5,89.85) scale(0.72,1)" font-family="Liberation Sans" font-size="7.2" fill="#444" text-anchor="middle" stroke="#444" stroke-width="0.4">5</text>
<text transform="translate(531.5,96.78) scale(0.72,1)" font-family="Liberation Sans" font-size="7.2" fill="#444" text-anchor="middle" stroke="#444" stroke-width="0.4">6</text>
<text transform="translate(531.5,103.71) scale(0.72,1)" font-family="Liberation Sans" font-size="7.2" fill="#444" text-anchor="middle" stroke="#444" stroke-width="0.4">7</text>
<text transform="translate(531.5,110.64) scale(0.72,1)" font-family="Liberation Sans" font-size="7.2" fill="#444" text-anchor="middle" stroke="#444" stroke-width="0.4">M</text>
<text transform="translate(557.4,55.20) scale(0.72,1)" font-family="Liberation Sans" font-size="7.2" fill="#444" text-anchor="middle" stroke="#444" stroke-width="0.4">0</text>
<text transform="translate(557.4,62.13) scale(0.72,1)" font-family="Liberation Sans" font-size="7.2" fill="#444" text-anchor="middle" stroke="#444" stroke-width="0.4">1</text>
<text transform="translate(557.4,69.06) scale(0.72,1)" font-family="Liberation Sans" font-size="7.2" fill="#444" text-anchor="middle" stroke="#444" stroke-width="0.4">2</text>
<text transform="translate(557.4,75.99) scale(0.72,1)" font-family="Liberation Sans" font-size="7.2" fill="#444" text-anchor="middle" stroke="#444" stroke-width="0.4">3</text>
<text transform="translate(557.4,82.92) scale(0.72,1)" font-family="Liberation Sans" font-size="7.2" fill="#444" text-anchor="middle" stroke="#444" stroke-width="0.4">4</text>
<text transform="translate(557.4,89.85) scale(0.72,1)" font-family="Liberation Sans" font-size="7.2" fill="#444" text-anchor="middle" stroke="#444" stroke-width="0.4">5</text>
<text transform="translate(557.4,96.78) scale(0.72,1)" font-family="Liberation Sans" font-size="7.2" fill="#444" text-anchor="middle" stroke="#444" stroke-width="0.4">6</text>
<text transform="translate(557.4,103.71) scale(0.72,1)" font-family="Liberation Sans" font-size="7.2" fill="#444" text-anchor="middle" stroke="#444" stroke-width="0.4">7</text>
<text transform="translate(557.4,110.64) scale(0.72,1)" font-family="Liberation Sans" font-size="7.2" fill="#444" text-anchor="middle" stroke="#444" stroke-width="0.4">M</text>
<text transform="translate(620,55.20) scale(0.72,1)" font-family="Liberation Sans" font-size="7.2" fill="#444" text-anchor="middle" stroke="#444" stroke-width="0.4">0</text>
<text transform="translate(620,62.13) scale(0.72,1)" font-family="Liberation Sans" font-size="7.2" fill="#444" text-anchor="middle" stroke="#444" stroke-width="0.4">1</text>
<text transform="translate(620,69.06) scale(0.72,1)" font-family="Liberation Sans" font-size="7.2" fill="#444" text-anchor="middle" stroke="#444" stroke-width="0.4">2</text>
<text transform="translate(620,75.99) scale(0.72,1)" font-family="Liberation Sans" font-size="7.2" fill="#444" text-anchor="middle" stroke="#444" stroke-width="0.4">3</text>
<text transform="translate(620,82.92) scale(0.72,1)" font-family="Liberation Sans" font-size="7.2" fill="#444" text-anchor="middle" stroke="#444" stroke-width="0.4">4</text>
<text transform="translate(620,89.85) scale(0.72,1)" font-family="Liberation Sans" font-size="7.2" fill="#444" text-anchor="middle" stroke="#444" stroke-width="0.4">5</text>
<text transform="translate(620,96.78) scale(0.72,1)" font-family="Liberation Sans" font-size="7.2" fill="#444" text-anchor="middle" stroke="#444" stroke-width="0.4">6</text>
<text transform="translate(620,103.71) scale(0.72,1)" font-family="Liberation Sans" font-size="7.2" fill="#444" text-anchor="middle" stroke="#444" stroke-width="0.4">7</text>
<text transform="translate(620,110.64) scale(0.72,1)" font-family="Liberation Sans" font-size="7.2" fill="#444" text-anchor="middle" stroke="#444" stroke-width="0.4">M</text>
<text x="643.5" y="47.2" font-family="Liberation Sans" font-size="5.2" font-weight="bold" fill="#000" textLength="8.50" lengthAdjust="spacingAndGlyphs" stroke="#000" stroke-width="0.2">P24</text>
<text x="617.8" y="47.2" font-family="Liberation Sans" font-size="5.2" font-weight="bold" fill="#000" textLength="2.70" lengthAdjust="spacingAndGlyphs" >R</text>
<rect x="682.1" y="46.1" width="16.8" height="26.7" rx="0" fill="#000" stroke="none" stroke-width="1"/>
<rect x="683.5" y="47" width="14" height="1.2" rx="0" fill="#fff" stroke="none" stroke-width="1"/>
<rect x="683.9" y="49" width="13" height="18.8" rx="0" fill="#fff" stroke="none" stroke-width="1"/>
<rect x="684.6" y="49.7" width="11.6" height="17.4" rx="0" fill="none" stroke="#000" stroke-width="0.9"/>
<rect x="684" y="69.2" width="13" height="1.7" rx="0" fill="#fff" stroke="none" stroke-width="1"/>
<path d="M687.3,51 L695,51 M686.4,58.1 L694.2,58.1" fill="none" stroke="#000" stroke-width="1.3" />
<path d="M687.1,51.5 L686.2,58 L685.3,65.8 L693.2,65.8 L694.1,58 L695,51.5" fill="none" stroke="#666" stroke-width="1.2" />
<circle cx="695.5" cy="67" r="0.6" fill="none" stroke="#000" stroke-width="0.8"/>
<text x="700.9" y="60.7" font-family="Liberation Sans" font-size="8.4" font-weight="normal" fill="#000" textLength="11.30" lengthAdjust="spacingAndGlyphs" stroke="#000" stroke-width="0.4">D15</text>
<circle cx="690.2" cy="83" r="4.8" fill="none" stroke="#222" stroke-width="1.0"/>
<rect x="687.3" y="80.8" width="5.8" height="4.5" rx="1.2" fill="none" stroke="#000" stroke-width="1.4"/>
<text x="700.6" y="87.3" font-family="Liberation Sans" font-size="8.6" font-weight="normal" fill="#000" textLength="8.80" lengthAdjust="spacingAndGlyphs" stroke="#000" stroke-width="0.25">S2</text>
<circle cx="690.2" cy="105.8" r="9.3" fill="none" stroke="#000" stroke-width="1.1"/>
<circle cx="690.2" cy="104.6" r="4.3" fill="none" stroke="#555" stroke-width="0.8"/>
<path d="M685.3,98.3 L688,102" fill="none" stroke="#000" stroke-width="2.4" stroke-linecap="round"/>
<path d="M695.2,98.3 L692.6,101.8" fill="none" stroke="#000" stroke-width="1" />
<circle cx="690.4" cy="99.3" r="1.3" fill="#fff" stroke="#000" stroke-width="0.9"/>
<path d="M690.4,101 L690.4,109.6" fill="none" stroke="#000" stroke-width="2" />
<text x="684.6" y="130.8" font-family="Liberation Sans" font-size="8.6" font-weight="normal" fill="#000" textLength="7.80" lengthAdjust="spacingAndGlyphs" stroke="#000" stroke-width="0.25">S3</text>
</svg></body></html>
